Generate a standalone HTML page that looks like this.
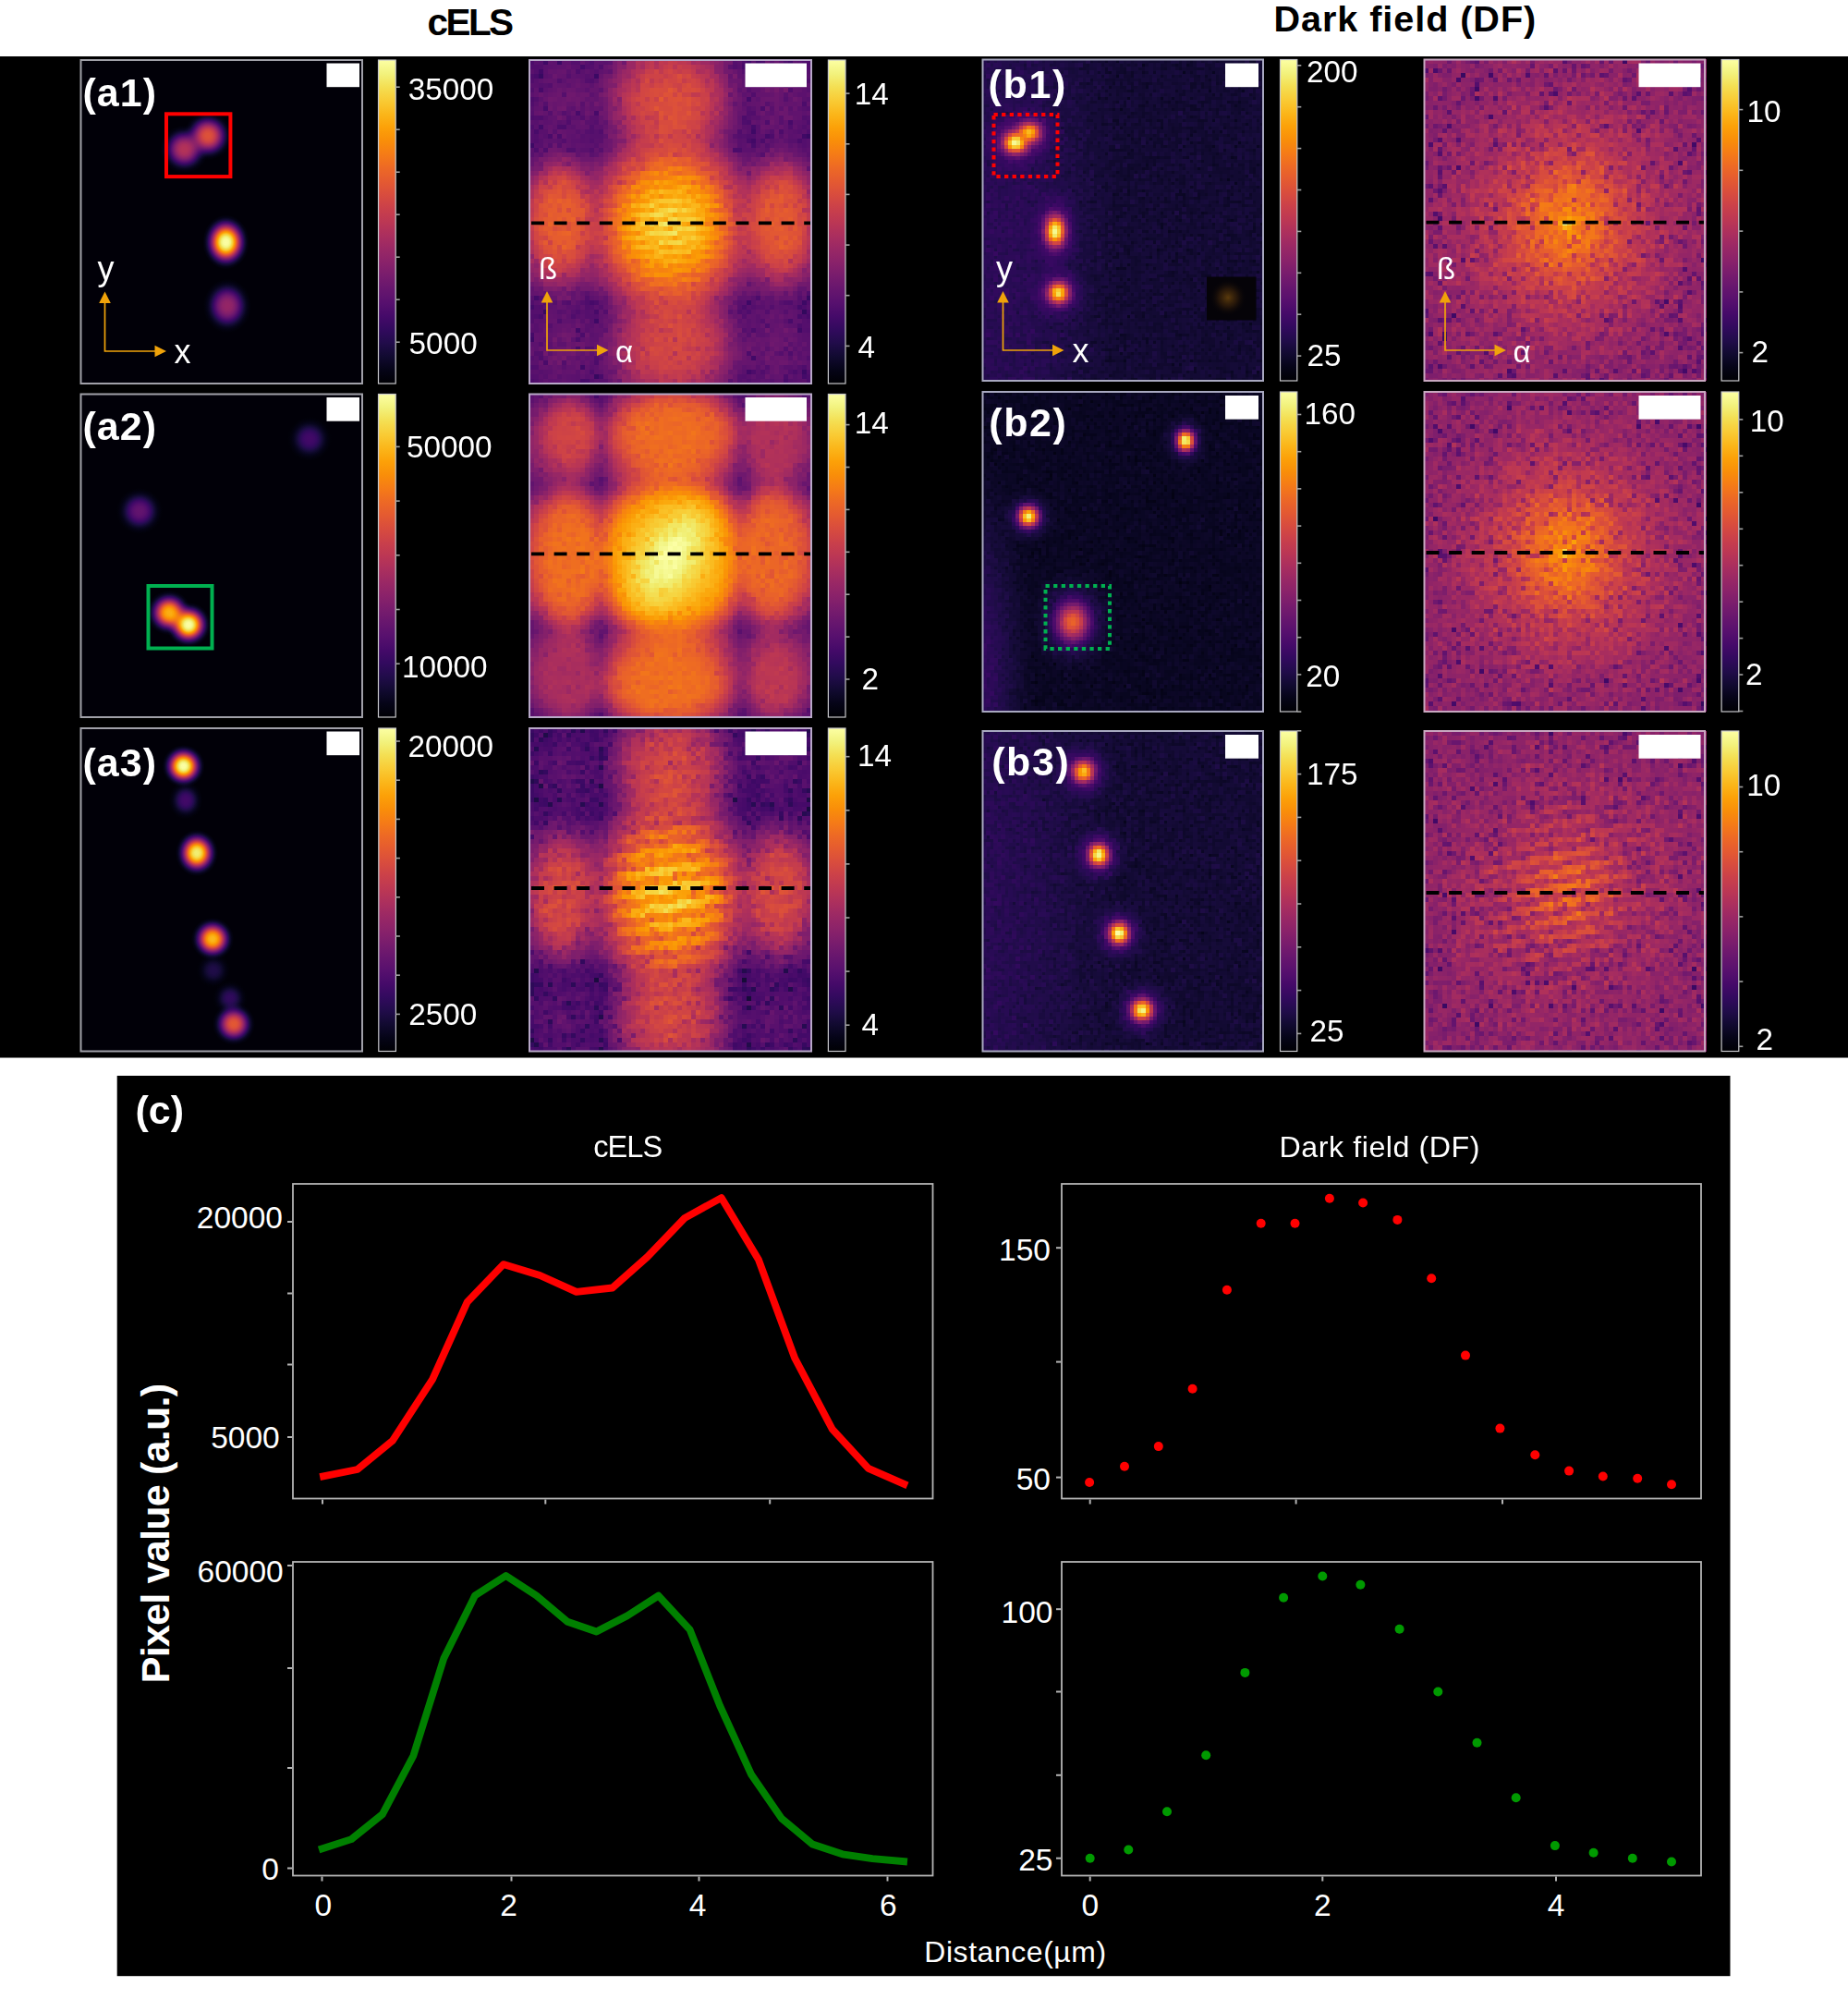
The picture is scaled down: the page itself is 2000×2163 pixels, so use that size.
<!DOCTYPE html><html><head><meta charset="utf-8"><title>figure</title><style>html,body{margin:0;padding:0;background:#fff}svg{display:block}text{font-family:"Liberation Sans",sans-serif}</style></head><body><svg width="2000" height="2163" viewBox="0 0 2000 2163"><defs><filter id="cmS" x="0" y="0" width="310" height="356" filterUnits="userSpaceOnUse" color-interpolation-filters="sRGB"><feComponentTransfer><feFuncR type="table" tableValues="0.0015 0.0060 0.0140 0.0258 0.0423 0.0613 0.0820 0.1046 0.1293 0.1558 0.1834 0.2111 0.2383 0.2648 0.2908 0.3163 0.3415 0.3665 0.3915 0.4163 0.4412 0.4661 0.4910 0.5160 0.5409 0.5659 0.5907 0.6155 0.6401 0.6645 0.6887 0.7124 0.7357 0.7584 0.7805 0.8019 0.8224 0.8420 0.8605 0.8780 0.8943 0.9094 0.9232 0.9357 0.9470 0.9569 0.9654 0.9726 0.9784 0.9829 0.9860 0.9876 0.9879 0.9867 0.9841 0.9800 0.9746 0.9680 0.9606 0.9532 0.9476 0.9469 0.9545 0.9712 0.9884"/><feFuncG type="table" tableValues="0.0005 0.0047 0.0112 0.0193 0.0281 0.0366 0.0433 0.0470 0.0473 0.0446 0.0403 0.0370 0.0366 0.0396 0.0456 0.0535 0.0623 0.0716 0.0809 0.0902 0.0993 0.1083 0.1172 0.1260 0.1347 0.1436 0.1526 0.1618 0.1714 0.1815 0.1922 0.2037 0.2159 0.2291 0.2433 0.2587 0.2752 0.2929 0.3119 0.3321 0.3534 0.3759 0.3994 0.4238 0.4492 0.4754 0.5022 0.5298 0.5579 0.5866 0.6158 0.6453 0.6753 0.7055 0.7361 0.7668 0.7977 0.8285 0.8591 0.8889 0.9174 0.9433 0.9659 0.9853 0.9984"/><feFuncB type="table" tableValues="0.0139 0.0386 0.0719 0.1059 0.1411 0.1776 0.2153 0.2534 0.2908 0.3253 0.3550 0.3786 0.3964 0.4093 0.4186 0.4251 0.4294 0.4320 0.4331 0.4329 0.4316 0.4291 0.4256 0.4209 0.4151 0.4083 0.4003 0.3912 0.3811 0.3698 0.3576 0.3444 0.3302 0.3153 0.2995 0.2831 0.2661 0.2486 0.2306 0.2123 0.1936 0.1746 0.1552 0.1354 0.1153 0.0947 0.0739 0.0533 0.0349 0.0247 0.0256 0.0399 0.0653 0.0957 0.1295 0.1664 0.2063 0.2500 0.2980 0.3514 0.4107 0.4750 0.5404 0.6022 0.6449"/></feComponentTransfer></filter><linearGradient id="cbar" x1="0" y1="0" x2="0" y2="1"><stop offset="0.000" stop-color="#fcffa4"/><stop offset="0.042" stop-color="#f2f27d"/><stop offset="0.083" stop-color="#f4df53"/><stop offset="0.125" stop-color="#f9cb35"/><stop offset="0.167" stop-color="#fbb61a"/><stop offset="0.208" stop-color="#fca108"/><stop offset="0.250" stop-color="#f98e09"/><stop offset="0.292" stop-color="#f57b17"/><stop offset="0.333" stop-color="#ed6925"/><stop offset="0.375" stop-color="#e45a31"/><stop offset="0.417" stop-color="#d84c3e"/><stop offset="0.458" stop-color="#ca404a"/><stop offset="0.500" stop-color="#bc3754"/><stop offset="0.542" stop-color="#ab2f5e"/><stop offset="0.583" stop-color="#9a2865"/><stop offset="0.625" stop-color="#8a226a"/><stop offset="0.667" stop-color="#781c6d"/><stop offset="0.708" stop-color="#67166e"/><stop offset="0.750" stop-color="#57106e"/><stop offset="0.792" stop-color="#450a69"/><stop offset="0.833" stop-color="#320a5e"/><stop offset="0.875" stop-color="#210c4a"/><stop offset="0.917" stop-color="#110a30"/><stop offset="0.958" stop-color="#050417"/><stop offset="1.000" stop-color="#000004"/></linearGradient><filter id="nF1" x="0" y="0" width="310" height="356" filterUnits="userSpaceOnUse" color-interpolation-filters="sRGB"><feTurbulence type="fractalNoise" baseFrequency="0.75" numOctaves="2" seed="3"/><feComponentTransfer><feFuncR type="table" tableValues="0 0 0.04 0.24 0.42 0.5 0.57 0.63 0.69 0.74 0.8"/></feComponentTransfer><feColorMatrix type="matrix" values="1 0 0 0 0 1 0 0 0 0 1 0 0 0 0 0 0 0 0 1" result="n"/><feComposite in="SourceGraphic" in2="n" operator="arithmetic" k1="0" k2="1" k3="0.160" k4="-0.080" result="s"/><feFlood x="2" y="2" width="1" height="1"/><feComposite width="5" height="5"/><feTile result="t"/><feComposite in="s" in2="t" operator="in"/><feMorphology operator="dilate" radius="2"/><feComponentTransfer><feFuncR type="table" tableValues="0.0015 0.0060 0.0140 0.0258 0.0423 0.0613 0.0820 0.1046 0.1293 0.1558 0.1834 0.2111 0.2383 0.2648 0.2908 0.3163 0.3415 0.3665 0.3915 0.4163 0.4412 0.4661 0.4910 0.5160 0.5409 0.5659 0.5907 0.6155 0.6401 0.6645 0.6887 0.7124 0.7357 0.7584 0.7805 0.8019 0.8224 0.8420 0.8605 0.8780 0.8943 0.9094 0.9232 0.9357 0.9470 0.9569 0.9654 0.9726 0.9784 0.9829 0.9860 0.9876 0.9879 0.9867 0.9841 0.9800 0.9746 0.9680 0.9606 0.9532 0.9476 0.9469 0.9545 0.9712 0.9884"/><feFuncG type="table" tableValues="0.0005 0.0047 0.0112 0.0193 0.0281 0.0366 0.0433 0.0470 0.0473 0.0446 0.0403 0.0370 0.0366 0.0396 0.0456 0.0535 0.0623 0.0716 0.0809 0.0902 0.0993 0.1083 0.1172 0.1260 0.1347 0.1436 0.1526 0.1618 0.1714 0.1815 0.1922 0.2037 0.2159 0.2291 0.2433 0.2587 0.2752 0.2929 0.3119 0.3321 0.3534 0.3759 0.3994 0.4238 0.4492 0.4754 0.5022 0.5298 0.5579 0.5866 0.6158 0.6453 0.6753 0.7055 0.7361 0.7668 0.7977 0.8285 0.8591 0.8889 0.9174 0.9433 0.9659 0.9853 0.9984"/><feFuncB type="table" tableValues="0.0139 0.0386 0.0719 0.1059 0.1411 0.1776 0.2153 0.2534 0.2908 0.3253 0.3550 0.3786 0.3964 0.4093 0.4186 0.4251 0.4294 0.4320 0.4331 0.4329 0.4316 0.4291 0.4256 0.4209 0.4151 0.4083 0.4003 0.3912 0.3811 0.3698 0.3576 0.3444 0.3302 0.3153 0.2995 0.2831 0.2661 0.2486 0.2306 0.2123 0.1936 0.1746 0.1552 0.1354 0.1153 0.0947 0.0739 0.0533 0.0349 0.0247 0.0256 0.0399 0.0653 0.0957 0.1295 0.1664 0.2063 0.2500 0.2980 0.3514 0.4107 0.4750 0.5404 0.6022 0.6449"/></feComponentTransfer></filter><filter id="nF2" x="0" y="0" width="310" height="356" filterUnits="userSpaceOnUse" color-interpolation-filters="sRGB"><feTurbulence type="fractalNoise" baseFrequency="0.75" numOctaves="2" seed="5"/><feComponentTransfer><feFuncR type="table" tableValues="0 0 0.04 0.24 0.42 0.5 0.57 0.63 0.69 0.74 0.8"/></feComponentTransfer><feColorMatrix type="matrix" values="1 0 0 0 0 1 0 0 0 0 1 0 0 0 0 0 0 0 0 1" result="n"/><feComposite in="SourceGraphic" in2="n" operator="arithmetic" k1="0" k2="1" k3="0.120" k4="-0.060" result="s"/><feFlood x="2" y="2" width="1" height="1"/><feComposite width="5" height="5"/><feTile result="t"/><feComposite in="s" in2="t" operator="in"/><feMorphology operator="dilate" radius="2"/><feComponentTransfer><feFuncR type="table" tableValues="0.0015 0.0060 0.0140 0.0258 0.0423 0.0613 0.0820 0.1046 0.1293 0.1558 0.1834 0.2111 0.2383 0.2648 0.2908 0.3163 0.3415 0.3665 0.3915 0.4163 0.4412 0.4661 0.4910 0.5160 0.5409 0.5659 0.5907 0.6155 0.6401 0.6645 0.6887 0.7124 0.7357 0.7584 0.7805 0.8019 0.8224 0.8420 0.8605 0.8780 0.8943 0.9094 0.9232 0.9357 0.9470 0.9569 0.9654 0.9726 0.9784 0.9829 0.9860 0.9876 0.9879 0.9867 0.9841 0.9800 0.9746 0.9680 0.9606 0.9532 0.9476 0.9469 0.9545 0.9712 0.9884"/><feFuncG type="table" tableValues="0.0005 0.0047 0.0112 0.0193 0.0281 0.0366 0.0433 0.0470 0.0473 0.0446 0.0403 0.0370 0.0366 0.0396 0.0456 0.0535 0.0623 0.0716 0.0809 0.0902 0.0993 0.1083 0.1172 0.1260 0.1347 0.1436 0.1526 0.1618 0.1714 0.1815 0.1922 0.2037 0.2159 0.2291 0.2433 0.2587 0.2752 0.2929 0.3119 0.3321 0.3534 0.3759 0.3994 0.4238 0.4492 0.4754 0.5022 0.5298 0.5579 0.5866 0.6158 0.6453 0.6753 0.7055 0.7361 0.7668 0.7977 0.8285 0.8591 0.8889 0.9174 0.9433 0.9659 0.9853 0.9984"/><feFuncB type="table" tableValues="0.0139 0.0386 0.0719 0.1059 0.1411 0.1776 0.2153 0.2534 0.2908 0.3253 0.3550 0.3786 0.3964 0.4093 0.4186 0.4251 0.4294 0.4320 0.4331 0.4329 0.4316 0.4291 0.4256 0.4209 0.4151 0.4083 0.4003 0.3912 0.3811 0.3698 0.3576 0.3444 0.3302 0.3153 0.2995 0.2831 0.2661 0.2486 0.2306 0.2123 0.1936 0.1746 0.1552 0.1354 0.1153 0.0947 0.0739 0.0533 0.0349 0.0247 0.0256 0.0399 0.0653 0.0957 0.1295 0.1664 0.2063 0.2500 0.2980 0.3514 0.4107 0.4750 0.5404 0.6022 0.6449"/></feComponentTransfer></filter><filter id="nF3" x="0" y="0" width="310" height="356" filterUnits="userSpaceOnUse" color-interpolation-filters="sRGB"><feTurbulence type="fractalNoise" baseFrequency="0.75" numOctaves="2" seed="8"/><feComponentTransfer><feFuncR type="table" tableValues="0 0 0.04 0.24 0.42 0.5 0.57 0.63 0.69 0.74 0.8"/></feComponentTransfer><feColorMatrix type="matrix" values="1 0 0 0 0 1 0 0 0 0 1 0 0 0 0 0 0 0 0 1" result="n"/><feComposite in="SourceGraphic" in2="n" operator="arithmetic" k1="0" k2="1" k3="0.260" k4="-0.130" result="s"/><feFlood x="2" y="2" width="1" height="1"/><feComposite width="5" height="5"/><feTile result="t"/><feComposite in="s" in2="t" operator="in"/><feMorphology operator="dilate" radius="2"/><feComponentTransfer><feFuncR type="table" tableValues="0.0015 0.0060 0.0140 0.0258 0.0423 0.0613 0.0820 0.1046 0.1293 0.1558 0.1834 0.2111 0.2383 0.2648 0.2908 0.3163 0.3415 0.3665 0.3915 0.4163 0.4412 0.4661 0.4910 0.5160 0.5409 0.5659 0.5907 0.6155 0.6401 0.6645 0.6887 0.7124 0.7357 0.7584 0.7805 0.8019 0.8224 0.8420 0.8605 0.8780 0.8943 0.9094 0.9232 0.9357 0.9470 0.9569 0.9654 0.9726 0.9784 0.9829 0.9860 0.9876 0.9879 0.9867 0.9841 0.9800 0.9746 0.9680 0.9606 0.9532 0.9476 0.9469 0.9545 0.9712 0.9884"/><feFuncG type="table" tableValues="0.0005 0.0047 0.0112 0.0193 0.0281 0.0366 0.0433 0.0470 0.0473 0.0446 0.0403 0.0370 0.0366 0.0396 0.0456 0.0535 0.0623 0.0716 0.0809 0.0902 0.0993 0.1083 0.1172 0.1260 0.1347 0.1436 0.1526 0.1618 0.1714 0.1815 0.1922 0.2037 0.2159 0.2291 0.2433 0.2587 0.2752 0.2929 0.3119 0.3321 0.3534 0.3759 0.3994 0.4238 0.4492 0.4754 0.5022 0.5298 0.5579 0.5866 0.6158 0.6453 0.6753 0.7055 0.7361 0.7668 0.7977 0.8285 0.8591 0.8889 0.9174 0.9433 0.9659 0.9853 0.9984"/><feFuncB type="table" tableValues="0.0139 0.0386 0.0719 0.1059 0.1411 0.1776 0.2153 0.2534 0.2908 0.3253 0.3550 0.3786 0.3964 0.4093 0.4186 0.4251 0.4294 0.4320 0.4331 0.4329 0.4316 0.4291 0.4256 0.4209 0.4151 0.4083 0.4003 0.3912 0.3811 0.3698 0.3576 0.3444 0.3302 0.3153 0.2995 0.2831 0.2661 0.2486 0.2306 0.2123 0.1936 0.1746 0.1552 0.1354 0.1153 0.0947 0.0739 0.0533 0.0349 0.0247 0.0256 0.0399 0.0653 0.0957 0.1295 0.1664 0.2063 0.2500 0.2980 0.3514 0.4107 0.4750 0.5404 0.6022 0.6449"/></feComponentTransfer></filter><filter id="nG1" x="0" y="0" width="310" height="356" filterUnits="userSpaceOnUse" color-interpolation-filters="sRGB"><feTurbulence type="fractalNoise" baseFrequency="0.75" numOctaves="2" seed="11"/><feComponentTransfer><feFuncR type="table" tableValues="0 0 0.04 0.24 0.42 0.5 0.57 0.63 0.69 0.74 0.8"/></feComponentTransfer><feColorMatrix type="matrix" values="1 0 0 0 0 1 0 0 0 0 1 0 0 0 0 0 0 0 0 1" result="n"/><feComposite in="SourceGraphic" in2="n" operator="arithmetic" k1="0" k2="1" k3="0.420" k4="-0.210" result="s"/><feFlood x="2" y="2" width="1" height="1"/><feComposite width="5" height="5"/><feTile result="t"/><feComposite in="s" in2="t" operator="in"/><feMorphology operator="dilate" radius="2"/><feComponentTransfer><feFuncR type="table" tableValues="0.0015 0.0060 0.0140 0.0258 0.0423 0.0613 0.0820 0.1046 0.1293 0.1558 0.1834 0.2111 0.2383 0.2648 0.2908 0.3163 0.3415 0.3665 0.3915 0.4163 0.4412 0.4661 0.4910 0.5160 0.5409 0.5659 0.5907 0.6155 0.6401 0.6645 0.6887 0.7124 0.7357 0.7584 0.7805 0.8019 0.8224 0.8420 0.8605 0.8780 0.8943 0.9094 0.9232 0.9357 0.9470 0.9569 0.9654 0.9726 0.9784 0.9829 0.9860 0.9876 0.9879 0.9867 0.9841 0.9800 0.9746 0.9680 0.9606 0.9532 0.9476 0.9469 0.9545 0.9712 0.9884"/><feFuncG type="table" tableValues="0.0005 0.0047 0.0112 0.0193 0.0281 0.0366 0.0433 0.0470 0.0473 0.0446 0.0403 0.0370 0.0366 0.0396 0.0456 0.0535 0.0623 0.0716 0.0809 0.0902 0.0993 0.1083 0.1172 0.1260 0.1347 0.1436 0.1526 0.1618 0.1714 0.1815 0.1922 0.2037 0.2159 0.2291 0.2433 0.2587 0.2752 0.2929 0.3119 0.3321 0.3534 0.3759 0.3994 0.4238 0.4492 0.4754 0.5022 0.5298 0.5579 0.5866 0.6158 0.6453 0.6753 0.7055 0.7361 0.7668 0.7977 0.8285 0.8591 0.8889 0.9174 0.9433 0.9659 0.9853 0.9984"/><feFuncB type="table" tableValues="0.0139 0.0386 0.0719 0.1059 0.1411 0.1776 0.2153 0.2534 0.2908 0.3253 0.3550 0.3786 0.3964 0.4093 0.4186 0.4251 0.4294 0.4320 0.4331 0.4329 0.4316 0.4291 0.4256 0.4209 0.4151 0.4083 0.4003 0.3912 0.3811 0.3698 0.3576 0.3444 0.3302 0.3153 0.2995 0.2831 0.2661 0.2486 0.2306 0.2123 0.1936 0.1746 0.1552 0.1354 0.1153 0.0947 0.0739 0.0533 0.0349 0.0247 0.0256 0.0399 0.0653 0.0957 0.1295 0.1664 0.2063 0.2500 0.2980 0.3514 0.4107 0.4750 0.5404 0.6022 0.6449"/></feComponentTransfer></filter><filter id="nG2" x="0" y="0" width="310" height="356" filterUnits="userSpaceOnUse" color-interpolation-filters="sRGB"><feTurbulence type="fractalNoise" baseFrequency="0.75" numOctaves="2" seed="12"/><feComponentTransfer><feFuncR type="table" tableValues="0 0 0.04 0.24 0.42 0.5 0.57 0.63 0.69 0.74 0.8"/></feComponentTransfer><feColorMatrix type="matrix" values="1 0 0 0 0 1 0 0 0 0 1 0 0 0 0 0 0 0 0 1" result="n"/><feComposite in="SourceGraphic" in2="n" operator="arithmetic" k1="0" k2="1" k3="0.420" k4="-0.210" result="s"/><feFlood x="2" y="2" width="1" height="1"/><feComposite width="5" height="5"/><feTile result="t"/><feComposite in="s" in2="t" operator="in"/><feMorphology operator="dilate" radius="2"/><feComponentTransfer><feFuncR type="table" tableValues="0.0015 0.0060 0.0140 0.0258 0.0423 0.0613 0.0820 0.1046 0.1293 0.1558 0.1834 0.2111 0.2383 0.2648 0.2908 0.3163 0.3415 0.3665 0.3915 0.4163 0.4412 0.4661 0.4910 0.5160 0.5409 0.5659 0.5907 0.6155 0.6401 0.6645 0.6887 0.7124 0.7357 0.7584 0.7805 0.8019 0.8224 0.8420 0.8605 0.8780 0.8943 0.9094 0.9232 0.9357 0.9470 0.9569 0.9654 0.9726 0.9784 0.9829 0.9860 0.9876 0.9879 0.9867 0.9841 0.9800 0.9746 0.9680 0.9606 0.9532 0.9476 0.9469 0.9545 0.9712 0.9884"/><feFuncG type="table" tableValues="0.0005 0.0047 0.0112 0.0193 0.0281 0.0366 0.0433 0.0470 0.0473 0.0446 0.0403 0.0370 0.0366 0.0396 0.0456 0.0535 0.0623 0.0716 0.0809 0.0902 0.0993 0.1083 0.1172 0.1260 0.1347 0.1436 0.1526 0.1618 0.1714 0.1815 0.1922 0.2037 0.2159 0.2291 0.2433 0.2587 0.2752 0.2929 0.3119 0.3321 0.3534 0.3759 0.3994 0.4238 0.4492 0.4754 0.5022 0.5298 0.5579 0.5866 0.6158 0.6453 0.6753 0.7055 0.7361 0.7668 0.7977 0.8285 0.8591 0.8889 0.9174 0.9433 0.9659 0.9853 0.9984"/><feFuncB type="table" tableValues="0.0139 0.0386 0.0719 0.1059 0.1411 0.1776 0.2153 0.2534 0.2908 0.3253 0.3550 0.3786 0.3964 0.4093 0.4186 0.4251 0.4294 0.4320 0.4331 0.4329 0.4316 0.4291 0.4256 0.4209 0.4151 0.4083 0.4003 0.3912 0.3811 0.3698 0.3576 0.3444 0.3302 0.3153 0.2995 0.2831 0.2661 0.2486 0.2306 0.2123 0.1936 0.1746 0.1552 0.1354 0.1153 0.0947 0.0739 0.0533 0.0349 0.0247 0.0256 0.0399 0.0653 0.0957 0.1295 0.1664 0.2063 0.2500 0.2980 0.3514 0.4107 0.4750 0.5404 0.6022 0.6449"/></feComponentTransfer></filter><filter id="nG3" x="0" y="0" width="310" height="356" filterUnits="userSpaceOnUse" color-interpolation-filters="sRGB"><feTurbulence type="fractalNoise" baseFrequency="0.75" numOctaves="2" seed="13"/><feComponentTransfer><feFuncR type="table" tableValues="0 0 0.04 0.24 0.42 0.5 0.57 0.63 0.69 0.74 0.8"/></feComponentTransfer><feColorMatrix type="matrix" values="1 0 0 0 0 1 0 0 0 0 1 0 0 0 0 0 0 0 0 1" result="n"/><feComposite in="SourceGraphic" in2="n" operator="arithmetic" k1="0" k2="1" k3="0.420" k4="-0.210" result="s"/><feFlood x="2" y="2" width="1" height="1"/><feComposite width="5" height="5"/><feTile result="t"/><feComposite in="s" in2="t" operator="in"/><feMorphology operator="dilate" radius="2"/><feComponentTransfer><feFuncR type="table" tableValues="0.0015 0.0060 0.0140 0.0258 0.0423 0.0613 0.0820 0.1046 0.1293 0.1558 0.1834 0.2111 0.2383 0.2648 0.2908 0.3163 0.3415 0.3665 0.3915 0.4163 0.4412 0.4661 0.4910 0.5160 0.5409 0.5659 0.5907 0.6155 0.6401 0.6645 0.6887 0.7124 0.7357 0.7584 0.7805 0.8019 0.8224 0.8420 0.8605 0.8780 0.8943 0.9094 0.9232 0.9357 0.9470 0.9569 0.9654 0.9726 0.9784 0.9829 0.9860 0.9876 0.9879 0.9867 0.9841 0.9800 0.9746 0.9680 0.9606 0.9532 0.9476 0.9469 0.9545 0.9712 0.9884"/><feFuncG type="table" tableValues="0.0005 0.0047 0.0112 0.0193 0.0281 0.0366 0.0433 0.0470 0.0473 0.0446 0.0403 0.0370 0.0366 0.0396 0.0456 0.0535 0.0623 0.0716 0.0809 0.0902 0.0993 0.1083 0.1172 0.1260 0.1347 0.1436 0.1526 0.1618 0.1714 0.1815 0.1922 0.2037 0.2159 0.2291 0.2433 0.2587 0.2752 0.2929 0.3119 0.3321 0.3534 0.3759 0.3994 0.4238 0.4492 0.4754 0.5022 0.5298 0.5579 0.5866 0.6158 0.6453 0.6753 0.7055 0.7361 0.7668 0.7977 0.8285 0.8591 0.8889 0.9174 0.9433 0.9659 0.9853 0.9984"/><feFuncB type="table" tableValues="0.0139 0.0386 0.0719 0.1059 0.1411 0.1776 0.2153 0.2534 0.2908 0.3253 0.3550 0.3786 0.3964 0.4093 0.4186 0.4251 0.4294 0.4320 0.4331 0.4329 0.4316 0.4291 0.4256 0.4209 0.4151 0.4083 0.4003 0.3912 0.3811 0.3698 0.3576 0.3444 0.3302 0.3153 0.2995 0.2831 0.2661 0.2486 0.2306 0.2123 0.1936 0.1746 0.1552 0.1354 0.1153 0.0947 0.0739 0.0533 0.0349 0.0247 0.0256 0.0399 0.0653 0.0957 0.1295 0.1664 0.2063 0.2500 0.2980 0.3514 0.4107 0.4750 0.5404 0.6022 0.6449"/></feComponentTransfer></filter><filter id="nB1" x="0" y="0" width="310" height="356" filterUnits="userSpaceOnUse" color-interpolation-filters="sRGB"><feTurbulence type="fractalNoise" baseFrequency="0.35" numOctaves="2" seed="21"/><feColorMatrix type="matrix" values="1 0 0 0 0 1 0 0 0 0 1 0 0 0 0 0 0 0 0 1" result="n"/><feComposite in="SourceGraphic" in2="n" operator="arithmetic" k1="0" k2="1" k3="0.100" k4="-0.050" result="s"/><feFlood x="2" y="2" width="1" height="1"/><feComposite width="4" height="4"/><feTile result="t"/><feComposite in="s" in2="t" operator="in"/><feMorphology operator="dilate" radius="2"/><feComponentTransfer><feFuncR type="table" tableValues="0.0015 0.0060 0.0140 0.0258 0.0423 0.0613 0.0820 0.1046 0.1293 0.1558 0.1834 0.2111 0.2383 0.2648 0.2908 0.3163 0.3415 0.3665 0.3915 0.4163 0.4412 0.4661 0.4910 0.5160 0.5409 0.5659 0.5907 0.6155 0.6401 0.6645 0.6887 0.7124 0.7357 0.7584 0.7805 0.8019 0.8224 0.8420 0.8605 0.8780 0.8943 0.9094 0.9232 0.9357 0.9470 0.9569 0.9654 0.9726 0.9784 0.9829 0.9860 0.9876 0.9879 0.9867 0.9841 0.9800 0.9746 0.9680 0.9606 0.9532 0.9476 0.9469 0.9545 0.9712 0.9884"/><feFuncG type="table" tableValues="0.0005 0.0047 0.0112 0.0193 0.0281 0.0366 0.0433 0.0470 0.0473 0.0446 0.0403 0.0370 0.0366 0.0396 0.0456 0.0535 0.0623 0.0716 0.0809 0.0902 0.0993 0.1083 0.1172 0.1260 0.1347 0.1436 0.1526 0.1618 0.1714 0.1815 0.1922 0.2037 0.2159 0.2291 0.2433 0.2587 0.2752 0.2929 0.3119 0.3321 0.3534 0.3759 0.3994 0.4238 0.4492 0.4754 0.5022 0.5298 0.5579 0.5866 0.6158 0.6453 0.6753 0.7055 0.7361 0.7668 0.7977 0.8285 0.8591 0.8889 0.9174 0.9433 0.9659 0.9853 0.9984"/><feFuncB type="table" tableValues="0.0139 0.0386 0.0719 0.1059 0.1411 0.1776 0.2153 0.2534 0.2908 0.3253 0.3550 0.3786 0.3964 0.4093 0.4186 0.4251 0.4294 0.4320 0.4331 0.4329 0.4316 0.4291 0.4256 0.4209 0.4151 0.4083 0.4003 0.3912 0.3811 0.3698 0.3576 0.3444 0.3302 0.3153 0.2995 0.2831 0.2661 0.2486 0.2306 0.2123 0.1936 0.1746 0.1552 0.1354 0.1153 0.0947 0.0739 0.0533 0.0349 0.0247 0.0256 0.0399 0.0653 0.0957 0.1295 0.1664 0.2063 0.2500 0.2980 0.3514 0.4107 0.4750 0.5404 0.6022 0.6449"/></feComponentTransfer></filter><filter id="nB2" x="0" y="0" width="310" height="356" filterUnits="userSpaceOnUse" color-interpolation-filters="sRGB"><feTurbulence type="fractalNoise" baseFrequency="0.35" numOctaves="2" seed="22"/><feColorMatrix type="matrix" values="1 0 0 0 0 1 0 0 0 0 1 0 0 0 0 0 0 0 0 1" result="n"/><feComposite in="SourceGraphic" in2="n" operator="arithmetic" k1="0" k2="1" k3="0.080" k4="-0.040" result="s"/><feFlood x="2" y="2" width="1" height="1"/><feComposite width="4" height="4"/><feTile result="t"/><feComposite in="s" in2="t" operator="in"/><feMorphology operator="dilate" radius="2"/><feComponentTransfer><feFuncR type="table" tableValues="0.0015 0.0060 0.0140 0.0258 0.0423 0.0613 0.0820 0.1046 0.1293 0.1558 0.1834 0.2111 0.2383 0.2648 0.2908 0.3163 0.3415 0.3665 0.3915 0.4163 0.4412 0.4661 0.4910 0.5160 0.5409 0.5659 0.5907 0.6155 0.6401 0.6645 0.6887 0.7124 0.7357 0.7584 0.7805 0.8019 0.8224 0.8420 0.8605 0.8780 0.8943 0.9094 0.9232 0.9357 0.9470 0.9569 0.9654 0.9726 0.9784 0.9829 0.9860 0.9876 0.9879 0.9867 0.9841 0.9800 0.9746 0.9680 0.9606 0.9532 0.9476 0.9469 0.9545 0.9712 0.9884"/><feFuncG type="table" tableValues="0.0005 0.0047 0.0112 0.0193 0.0281 0.0366 0.0433 0.0470 0.0473 0.0446 0.0403 0.0370 0.0366 0.0396 0.0456 0.0535 0.0623 0.0716 0.0809 0.0902 0.0993 0.1083 0.1172 0.1260 0.1347 0.1436 0.1526 0.1618 0.1714 0.1815 0.1922 0.2037 0.2159 0.2291 0.2433 0.2587 0.2752 0.2929 0.3119 0.3321 0.3534 0.3759 0.3994 0.4238 0.4492 0.4754 0.5022 0.5298 0.5579 0.5866 0.6158 0.6453 0.6753 0.7055 0.7361 0.7668 0.7977 0.8285 0.8591 0.8889 0.9174 0.9433 0.9659 0.9853 0.9984"/><feFuncB type="table" tableValues="0.0139 0.0386 0.0719 0.1059 0.1411 0.1776 0.2153 0.2534 0.2908 0.3253 0.3550 0.3786 0.3964 0.4093 0.4186 0.4251 0.4294 0.4320 0.4331 0.4329 0.4316 0.4291 0.4256 0.4209 0.4151 0.4083 0.4003 0.3912 0.3811 0.3698 0.3576 0.3444 0.3302 0.3153 0.2995 0.2831 0.2661 0.2486 0.2306 0.2123 0.1936 0.1746 0.1552 0.1354 0.1153 0.0947 0.0739 0.0533 0.0349 0.0247 0.0256 0.0399 0.0653 0.0957 0.1295 0.1664 0.2063 0.2500 0.2980 0.3514 0.4107 0.4750 0.5404 0.6022 0.6449"/></feComponentTransfer></filter><filter id="nB3" x="0" y="0" width="310" height="356" filterUnits="userSpaceOnUse" color-interpolation-filters="sRGB"><feTurbulence type="fractalNoise" baseFrequency="0.35" numOctaves="2" seed="23"/><feColorMatrix type="matrix" values="1 0 0 0 0 1 0 0 0 0 1 0 0 0 0 0 0 0 0 1" result="n"/><feComposite in="SourceGraphic" in2="n" operator="arithmetic" k1="0" k2="1" k3="0.100" k4="-0.050" result="s"/><feFlood x="2" y="2" width="1" height="1"/><feComposite width="4" height="4"/><feTile result="t"/><feComposite in="s" in2="t" operator="in"/><feMorphology operator="dilate" radius="2"/><feComponentTransfer><feFuncR type="table" tableValues="0.0015 0.0060 0.0140 0.0258 0.0423 0.0613 0.0820 0.1046 0.1293 0.1558 0.1834 0.2111 0.2383 0.2648 0.2908 0.3163 0.3415 0.3665 0.3915 0.4163 0.4412 0.4661 0.4910 0.5160 0.5409 0.5659 0.5907 0.6155 0.6401 0.6645 0.6887 0.7124 0.7357 0.7584 0.7805 0.8019 0.8224 0.8420 0.8605 0.8780 0.8943 0.9094 0.9232 0.9357 0.9470 0.9569 0.9654 0.9726 0.9784 0.9829 0.9860 0.9876 0.9879 0.9867 0.9841 0.9800 0.9746 0.9680 0.9606 0.9532 0.9476 0.9469 0.9545 0.9712 0.9884"/><feFuncG type="table" tableValues="0.0005 0.0047 0.0112 0.0193 0.0281 0.0366 0.0433 0.0470 0.0473 0.0446 0.0403 0.0370 0.0366 0.0396 0.0456 0.0535 0.0623 0.0716 0.0809 0.0902 0.0993 0.1083 0.1172 0.1260 0.1347 0.1436 0.1526 0.1618 0.1714 0.1815 0.1922 0.2037 0.2159 0.2291 0.2433 0.2587 0.2752 0.2929 0.3119 0.3321 0.3534 0.3759 0.3994 0.4238 0.4492 0.4754 0.5022 0.5298 0.5579 0.5866 0.6158 0.6453 0.6753 0.7055 0.7361 0.7668 0.7977 0.8285 0.8591 0.8889 0.9174 0.9433 0.9659 0.9853 0.9984"/><feFuncB type="table" tableValues="0.0139 0.0386 0.0719 0.1059 0.1411 0.1776 0.2153 0.2534 0.2908 0.3253 0.3550 0.3786 0.3964 0.4093 0.4186 0.4251 0.4294 0.4320 0.4331 0.4329 0.4316 0.4291 0.4256 0.4209 0.4151 0.4083 0.4003 0.3912 0.3811 0.3698 0.3576 0.3444 0.3302 0.3153 0.2995 0.2831 0.2661 0.2486 0.2306 0.2123 0.1936 0.1746 0.1552 0.1354 0.1153 0.0947 0.0739 0.0533 0.0349 0.0247 0.0256 0.0399 0.0653 0.0957 0.1295 0.1664 0.2063 0.2500 0.2980 0.3514 0.4107 0.4750 0.5404 0.6022 0.6449"/></feComponentTransfer></filter><radialGradient id="g1"><stop offset="0.000" stop-color="#7a7a7a" stop-opacity="1.000"/><stop offset="0.100" stop-color="#7a7a7a" stop-opacity="0.994"/><stop offset="0.200" stop-color="#7a7a7a" stop-opacity="0.956"/><stop offset="0.300" stop-color="#7a7a7a" stop-opacity="0.869"/><stop offset="0.400" stop-color="#7a7a7a" stop-opacity="0.731"/><stop offset="0.500" stop-color="#7a7a7a" stop-opacity="0.556"/><stop offset="0.600" stop-color="#7a7a7a" stop-opacity="0.373"/><stop offset="0.700" stop-color="#7a7a7a" stop-opacity="0.215"/><stop offset="0.800" stop-color="#7a7a7a" stop-opacity="0.101"/><stop offset="0.900" stop-color="#7a7a7a" stop-opacity="0.033"/><stop offset="1.000" stop-color="#7a7a7a" stop-opacity="0.000"/></radialGradient><radialGradient id="g2"><stop offset="0.000" stop-color="#999999" stop-opacity="1.000"/><stop offset="0.100" stop-color="#999999" stop-opacity="0.994"/><stop offset="0.200" stop-color="#999999" stop-opacity="0.956"/><stop offset="0.300" stop-color="#999999" stop-opacity="0.869"/><stop offset="0.400" stop-color="#999999" stop-opacity="0.731"/><stop offset="0.500" stop-color="#999999" stop-opacity="0.556"/><stop offset="0.600" stop-color="#999999" stop-opacity="0.373"/><stop offset="0.700" stop-color="#999999" stop-opacity="0.215"/><stop offset="0.800" stop-color="#999999" stop-opacity="0.101"/><stop offset="0.900" stop-color="#999999" stop-opacity="0.033"/><stop offset="1.000" stop-color="#999999" stop-opacity="0.000"/></radialGradient><radialGradient id="g3"><stop offset="0.000" stop-color="#ffffff" stop-opacity="1.000"/><stop offset="0.100" stop-color="#ffffff" stop-opacity="0.994"/><stop offset="0.200" stop-color="#ffffff" stop-opacity="0.956"/><stop offset="0.300" stop-color="#ffffff" stop-opacity="0.869"/><stop offset="0.400" stop-color="#ffffff" stop-opacity="0.731"/><stop offset="0.500" stop-color="#ffffff" stop-opacity="0.556"/><stop offset="0.600" stop-color="#ffffff" stop-opacity="0.373"/><stop offset="0.700" stop-color="#ffffff" stop-opacity="0.215"/><stop offset="0.800" stop-color="#ffffff" stop-opacity="0.101"/><stop offset="0.900" stop-color="#ffffff" stop-opacity="0.033"/><stop offset="1.000" stop-color="#ffffff" stop-opacity="0.000"/></radialGradient><radialGradient id="g4"><stop offset="0.000" stop-color="#666666" stop-opacity="1.000"/><stop offset="0.100" stop-color="#666666" stop-opacity="0.994"/><stop offset="0.200" stop-color="#666666" stop-opacity="0.956"/><stop offset="0.300" stop-color="#666666" stop-opacity="0.869"/><stop offset="0.400" stop-color="#666666" stop-opacity="0.731"/><stop offset="0.500" stop-color="#666666" stop-opacity="0.556"/><stop offset="0.600" stop-color="#666666" stop-opacity="0.373"/><stop offset="0.700" stop-color="#666666" stop-opacity="0.215"/><stop offset="0.800" stop-color="#666666" stop-opacity="0.101"/><stop offset="0.900" stop-color="#666666" stop-opacity="0.033"/><stop offset="1.000" stop-color="#666666" stop-opacity="0.000"/></radialGradient><radialGradient id="g5"><stop offset="0.000" stop-color="#333333" stop-opacity="1.000"/><stop offset="0.100" stop-color="#333333" stop-opacity="0.994"/><stop offset="0.200" stop-color="#333333" stop-opacity="0.956"/><stop offset="0.300" stop-color="#333333" stop-opacity="0.869"/><stop offset="0.400" stop-color="#333333" stop-opacity="0.731"/><stop offset="0.500" stop-color="#333333" stop-opacity="0.556"/><stop offset="0.600" stop-color="#333333" stop-opacity="0.373"/><stop offset="0.700" stop-color="#333333" stop-opacity="0.215"/><stop offset="0.800" stop-color="#333333" stop-opacity="0.101"/><stop offset="0.900" stop-color="#333333" stop-opacity="0.033"/><stop offset="1.000" stop-color="#333333" stop-opacity="0.000"/></radialGradient><radialGradient id="g6"><stop offset="0.000" stop-color="#474747" stop-opacity="1.000"/><stop offset="0.100" stop-color="#474747" stop-opacity="0.994"/><stop offset="0.200" stop-color="#474747" stop-opacity="0.956"/><stop offset="0.300" stop-color="#474747" stop-opacity="0.869"/><stop offset="0.400" stop-color="#474747" stop-opacity="0.731"/><stop offset="0.500" stop-color="#474747" stop-opacity="0.556"/><stop offset="0.600" stop-color="#474747" stop-opacity="0.373"/><stop offset="0.700" stop-color="#474747" stop-opacity="0.215"/><stop offset="0.800" stop-color="#474747" stop-opacity="0.101"/><stop offset="0.900" stop-color="#474747" stop-opacity="0.033"/><stop offset="1.000" stop-color="#474747" stop-opacity="0.000"/></radialGradient><radialGradient id="g7"><stop offset="0.000" stop-color="#d1d1d1" stop-opacity="1.000"/><stop offset="0.100" stop-color="#d1d1d1" stop-opacity="0.994"/><stop offset="0.200" stop-color="#d1d1d1" stop-opacity="0.956"/><stop offset="0.300" stop-color="#d1d1d1" stop-opacity="0.869"/><stop offset="0.400" stop-color="#d1d1d1" stop-opacity="0.731"/><stop offset="0.500" stop-color="#d1d1d1" stop-opacity="0.556"/><stop offset="0.600" stop-color="#d1d1d1" stop-opacity="0.373"/><stop offset="0.700" stop-color="#d1d1d1" stop-opacity="0.215"/><stop offset="0.800" stop-color="#d1d1d1" stop-opacity="0.101"/><stop offset="0.900" stop-color="#d1d1d1" stop-opacity="0.033"/><stop offset="1.000" stop-color="#d1d1d1" stop-opacity="0.000"/></radialGradient><radialGradient id="g8"><stop offset="0.000" stop-color="#ffffff" stop-opacity="1.000"/><stop offset="0.100" stop-color="#ffffff" stop-opacity="0.994"/><stop offset="0.200" stop-color="#ffffff" stop-opacity="0.956"/><stop offset="0.300" stop-color="#ffffff" stop-opacity="0.869"/><stop offset="0.400" stop-color="#ffffff" stop-opacity="0.731"/><stop offset="0.500" stop-color="#ffffff" stop-opacity="0.556"/><stop offset="0.600" stop-color="#ffffff" stop-opacity="0.373"/><stop offset="0.700" stop-color="#ffffff" stop-opacity="0.215"/><stop offset="0.800" stop-color="#ffffff" stop-opacity="0.101"/><stop offset="0.900" stop-color="#ffffff" stop-opacity="0.033"/><stop offset="1.000" stop-color="#ffffff" stop-opacity="0.000"/></radialGradient><radialGradient id="g9"><stop offset="0.000" stop-color="#ffffff" stop-opacity="1.000"/><stop offset="0.100" stop-color="#ffffff" stop-opacity="0.994"/><stop offset="0.200" stop-color="#ffffff" stop-opacity="0.956"/><stop offset="0.300" stop-color="#ffffff" stop-opacity="0.869"/><stop offset="0.400" stop-color="#ffffff" stop-opacity="0.731"/><stop offset="0.500" stop-color="#ffffff" stop-opacity="0.556"/><stop offset="0.600" stop-color="#ffffff" stop-opacity="0.373"/><stop offset="0.700" stop-color="#ffffff" stop-opacity="0.215"/><stop offset="0.800" stop-color="#ffffff" stop-opacity="0.101"/><stop offset="0.900" stop-color="#ffffff" stop-opacity="0.033"/><stop offset="1.000" stop-color="#ffffff" stop-opacity="0.000"/></radialGradient><radialGradient id="g10"><stop offset="0.000" stop-color="#333333" stop-opacity="1.000"/><stop offset="0.100" stop-color="#333333" stop-opacity="0.994"/><stop offset="0.200" stop-color="#333333" stop-opacity="0.956"/><stop offset="0.300" stop-color="#333333" stop-opacity="0.869"/><stop offset="0.400" stop-color="#333333" stop-opacity="0.731"/><stop offset="0.500" stop-color="#333333" stop-opacity="0.556"/><stop offset="0.600" stop-color="#333333" stop-opacity="0.373"/><stop offset="0.700" stop-color="#333333" stop-opacity="0.215"/><stop offset="0.800" stop-color="#333333" stop-opacity="0.101"/><stop offset="0.900" stop-color="#333333" stop-opacity="0.033"/><stop offset="1.000" stop-color="#333333" stop-opacity="0.000"/></radialGradient><radialGradient id="g11"><stop offset="0.000" stop-color="#f2f2f2" stop-opacity="1.000"/><stop offset="0.100" stop-color="#f2f2f2" stop-opacity="0.994"/><stop offset="0.200" stop-color="#f2f2f2" stop-opacity="0.956"/><stop offset="0.300" stop-color="#f2f2f2" stop-opacity="0.869"/><stop offset="0.400" stop-color="#f2f2f2" stop-opacity="0.731"/><stop offset="0.500" stop-color="#f2f2f2" stop-opacity="0.556"/><stop offset="0.600" stop-color="#f2f2f2" stop-opacity="0.373"/><stop offset="0.700" stop-color="#f2f2f2" stop-opacity="0.215"/><stop offset="0.800" stop-color="#f2f2f2" stop-opacity="0.101"/><stop offset="0.900" stop-color="#f2f2f2" stop-opacity="0.033"/><stop offset="1.000" stop-color="#f2f2f2" stop-opacity="0.000"/></radialGradient><radialGradient id="g12"><stop offset="0.000" stop-color="#d6d6d6" stop-opacity="1.000"/><stop offset="0.100" stop-color="#d6d6d6" stop-opacity="0.994"/><stop offset="0.200" stop-color="#d6d6d6" stop-opacity="0.956"/><stop offset="0.300" stop-color="#d6d6d6" stop-opacity="0.869"/><stop offset="0.400" stop-color="#d6d6d6" stop-opacity="0.731"/><stop offset="0.500" stop-color="#d6d6d6" stop-opacity="0.556"/><stop offset="0.600" stop-color="#d6d6d6" stop-opacity="0.373"/><stop offset="0.700" stop-color="#d6d6d6" stop-opacity="0.215"/><stop offset="0.800" stop-color="#d6d6d6" stop-opacity="0.101"/><stop offset="0.900" stop-color="#d6d6d6" stop-opacity="0.033"/><stop offset="1.000" stop-color="#d6d6d6" stop-opacity="0.000"/></radialGradient><radialGradient id="g13"><stop offset="0.000" stop-color="#1f1f1f" stop-opacity="1.000"/><stop offset="0.100" stop-color="#1f1f1f" stop-opacity="0.994"/><stop offset="0.200" stop-color="#1f1f1f" stop-opacity="0.956"/><stop offset="0.300" stop-color="#1f1f1f" stop-opacity="0.869"/><stop offset="0.400" stop-color="#1f1f1f" stop-opacity="0.731"/><stop offset="0.500" stop-color="#1f1f1f" stop-opacity="0.556"/><stop offset="0.600" stop-color="#1f1f1f" stop-opacity="0.373"/><stop offset="0.700" stop-color="#1f1f1f" stop-opacity="0.215"/><stop offset="0.800" stop-color="#1f1f1f" stop-opacity="0.101"/><stop offset="0.900" stop-color="#1f1f1f" stop-opacity="0.033"/><stop offset="1.000" stop-color="#1f1f1f" stop-opacity="0.000"/></radialGradient><radialGradient id="g14"><stop offset="0.000" stop-color="#292929" stop-opacity="1.000"/><stop offset="0.100" stop-color="#292929" stop-opacity="0.994"/><stop offset="0.200" stop-color="#292929" stop-opacity="0.956"/><stop offset="0.300" stop-color="#292929" stop-opacity="0.869"/><stop offset="0.400" stop-color="#292929" stop-opacity="0.731"/><stop offset="0.500" stop-color="#292929" stop-opacity="0.556"/><stop offset="0.600" stop-color="#292929" stop-opacity="0.373"/><stop offset="0.700" stop-color="#292929" stop-opacity="0.215"/><stop offset="0.800" stop-color="#292929" stop-opacity="0.101"/><stop offset="0.900" stop-color="#292929" stop-opacity="0.033"/><stop offset="1.000" stop-color="#292929" stop-opacity="0.000"/></radialGradient><radialGradient id="g15"><stop offset="0.000" stop-color="#9e9e9e" stop-opacity="1.000"/><stop offset="0.100" stop-color="#9e9e9e" stop-opacity="0.994"/><stop offset="0.200" stop-color="#9e9e9e" stop-opacity="0.956"/><stop offset="0.300" stop-color="#9e9e9e" stop-opacity="0.869"/><stop offset="0.400" stop-color="#9e9e9e" stop-opacity="0.731"/><stop offset="0.500" stop-color="#9e9e9e" stop-opacity="0.556"/><stop offset="0.600" stop-color="#9e9e9e" stop-opacity="0.373"/><stop offset="0.700" stop-color="#9e9e9e" stop-opacity="0.215"/><stop offset="0.800" stop-color="#9e9e9e" stop-opacity="0.101"/><stop offset="0.900" stop-color="#9e9e9e" stop-opacity="0.033"/><stop offset="1.000" stop-color="#9e9e9e" stop-opacity="0.000"/></radialGradient><linearGradient id="p16" x1="0" y1="0" x2="1" y2="0"><stop offset="0.000" stop-color="#1b1b1b"/><stop offset="0.025" stop-color="#1e1e1e"/><stop offset="0.050" stop-color="#212121"/><stop offset="0.075" stop-color="#242424"/><stop offset="0.100" stop-color="#262626"/><stop offset="0.125" stop-color="#262626"/><stop offset="0.150" stop-color="#252525"/><stop offset="0.175" stop-color="#232323"/><stop offset="0.200" stop-color="#212121"/><stop offset="0.225" stop-color="#1f1f1f"/><stop offset="0.250" stop-color="#202020"/><stop offset="0.275" stop-color="#252525"/><stop offset="0.300" stop-color="#2e2e2e"/><stop offset="0.325" stop-color="#363636"/><stop offset="0.350" stop-color="#3c3c3c"/><stop offset="0.375" stop-color="#424242"/><stop offset="0.400" stop-color="#474747"/><stop offset="0.425" stop-color="#494949"/><stop offset="0.450" stop-color="#4b4b4b"/><stop offset="0.475" stop-color="#4c4c4c"/><stop offset="0.500" stop-color="#4c4c4c"/><stop offset="0.525" stop-color="#4c4c4c"/><stop offset="0.550" stop-color="#4b4b4b"/><stop offset="0.575" stop-color="#494949"/><stop offset="0.600" stop-color="#464646"/><stop offset="0.625" stop-color="#414141"/><stop offset="0.650" stop-color="#3b3b3b"/><stop offset="0.675" stop-color="#353535"/><stop offset="0.700" stop-color="#2c2c2c"/><stop offset="0.725" stop-color="#242424"/><stop offset="0.750" stop-color="#1f1f1f"/><stop offset="0.775" stop-color="#1f1f1f"/><stop offset="0.800" stop-color="#212121"/><stop offset="0.825" stop-color="#232323"/><stop offset="0.850" stop-color="#252525"/><stop offset="0.875" stop-color="#262626"/><stop offset="0.900" stop-color="#262626"/><stop offset="0.925" stop-color="#232323"/><stop offset="0.950" stop-color="#212121"/><stop offset="0.975" stop-color="#1e1e1e"/><stop offset="1.000" stop-color="#1b1b1b"/></linearGradient><linearGradient id="p17" x1="0" y1="0" x2="0" y2="1"><stop offset="0.000" stop-color="#1d1d1d"/><stop offset="0.025" stop-color="#1f1f1f"/><stop offset="0.050" stop-color="#212121"/><stop offset="0.075" stop-color="#242424"/><stop offset="0.100" stop-color="#262626"/><stop offset="0.125" stop-color="#262626"/><stop offset="0.150" stop-color="#252525"/><stop offset="0.175" stop-color="#242424"/><stop offset="0.200" stop-color="#222222"/><stop offset="0.225" stop-color="#202020"/><stop offset="0.250" stop-color="#1f1f1f"/><stop offset="0.275" stop-color="#222222"/><stop offset="0.300" stop-color="#2a2a2a"/><stop offset="0.325" stop-color="#333333"/><stop offset="0.350" stop-color="#3a3a3a"/><stop offset="0.375" stop-color="#414141"/><stop offset="0.400" stop-color="#464646"/><stop offset="0.425" stop-color="#494949"/><stop offset="0.450" stop-color="#4b4b4b"/><stop offset="0.475" stop-color="#4c4c4c"/><stop offset="0.500" stop-color="#4c4c4c"/><stop offset="0.525" stop-color="#4c4c4c"/><stop offset="0.550" stop-color="#4b4b4b"/><stop offset="0.575" stop-color="#4a4a4a"/><stop offset="0.600" stop-color="#484848"/><stop offset="0.625" stop-color="#434343"/><stop offset="0.650" stop-color="#3d3d3d"/><stop offset="0.675" stop-color="#373737"/><stop offset="0.700" stop-color="#2f2f2f"/><stop offset="0.725" stop-color="#252525"/><stop offset="0.750" stop-color="#1f1f1f"/><stop offset="0.775" stop-color="#1f1f1f"/><stop offset="0.800" stop-color="#212121"/><stop offset="0.825" stop-color="#232323"/><stop offset="0.850" stop-color="#252525"/><stop offset="0.875" stop-color="#262626"/><stop offset="0.900" stop-color="#262626"/><stop offset="0.925" stop-color="#252525"/><stop offset="0.950" stop-color="#222222"/><stop offset="0.975" stop-color="#202020"/><stop offset="1.000" stop-color="#1e1e1e"/></linearGradient><radialGradient id="g18"><stop offset="0.000" stop-color="#a1a1a1" stop-opacity="1.000"/><stop offset="0.100" stop-color="#a1a1a1" stop-opacity="1.000"/><stop offset="0.200" stop-color="#a1a1a1" stop-opacity="0.993"/><stop offset="0.300" stop-color="#a1a1a1" stop-opacity="0.963"/><stop offset="0.400" stop-color="#a1a1a1" stop-opacity="0.888"/><stop offset="0.500" stop-color="#a1a1a1" stop-opacity="0.748"/><stop offset="0.600" stop-color="#a1a1a1" stop-opacity="0.546"/><stop offset="0.700" stop-color="#a1a1a1" stop-opacity="0.325"/><stop offset="0.800" stop-color="#a1a1a1" stop-opacity="0.143"/><stop offset="0.900" stop-color="#a1a1a1" stop-opacity="0.039"/><stop offset="1.000" stop-color="#a1a1a1" stop-opacity="0.000"/></radialGradient><radialGradient id="g19"><stop offset="0.000" stop-color="#9e9e9e" stop-opacity="1.000"/><stop offset="0.100" stop-color="#9e9e9e" stop-opacity="1.000"/><stop offset="0.200" stop-color="#9e9e9e" stop-opacity="0.993"/><stop offset="0.300" stop-color="#9e9e9e" stop-opacity="0.963"/><stop offset="0.400" stop-color="#9e9e9e" stop-opacity="0.888"/><stop offset="0.500" stop-color="#9e9e9e" stop-opacity="0.748"/><stop offset="0.600" stop-color="#9e9e9e" stop-opacity="0.546"/><stop offset="0.700" stop-color="#9e9e9e" stop-opacity="0.325"/><stop offset="0.800" stop-color="#9e9e9e" stop-opacity="0.143"/><stop offset="0.900" stop-color="#9e9e9e" stop-opacity="0.039"/><stop offset="1.000" stop-color="#9e9e9e" stop-opacity="0.000"/></radialGradient><radialGradient id="g20"><stop offset="0.000" stop-color="#969696" stop-opacity="1.000"/><stop offset="0.100" stop-color="#969696" stop-opacity="0.995"/><stop offset="0.200" stop-color="#969696" stop-opacity="0.964"/><stop offset="0.300" stop-color="#969696" stop-opacity="0.882"/><stop offset="0.400" stop-color="#969696" stop-opacity="0.742"/><stop offset="0.500" stop-color="#969696" stop-opacity="0.558"/><stop offset="0.600" stop-color="#969696" stop-opacity="0.364"/><stop offset="0.700" stop-color="#969696" stop-opacity="0.198"/><stop offset="0.800" stop-color="#969696" stop-opacity="0.086"/><stop offset="0.900" stop-color="#969696" stop-opacity="0.025"/><stop offset="1.000" stop-color="#969696" stop-opacity="0.000"/></radialGradient><radialGradient id="g21"><stop offset="0.000" stop-color="#8f8f8f" stop-opacity="1.000"/><stop offset="0.100" stop-color="#8f8f8f" stop-opacity="0.995"/><stop offset="0.200" stop-color="#8f8f8f" stop-opacity="0.964"/><stop offset="0.300" stop-color="#8f8f8f" stop-opacity="0.882"/><stop offset="0.400" stop-color="#8f8f8f" stop-opacity="0.742"/><stop offset="0.500" stop-color="#8f8f8f" stop-opacity="0.558"/><stop offset="0.600" stop-color="#8f8f8f" stop-opacity="0.364"/><stop offset="0.700" stop-color="#8f8f8f" stop-opacity="0.198"/><stop offset="0.800" stop-color="#8f8f8f" stop-opacity="0.086"/><stop offset="0.900" stop-color="#8f8f8f" stop-opacity="0.025"/><stop offset="1.000" stop-color="#8f8f8f" stop-opacity="0.000"/></radialGradient><radialGradient id="g22"><stop offset="0.000" stop-color="#c7c7c7" stop-opacity="1.000"/><stop offset="0.100" stop-color="#c7c7c7" stop-opacity="0.999"/><stop offset="0.200" stop-color="#c7c7c7" stop-opacity="0.984"/><stop offset="0.300" stop-color="#c7c7c7" stop-opacity="0.934"/><stop offset="0.400" stop-color="#c7c7c7" stop-opacity="0.828"/><stop offset="0.500" stop-color="#c7c7c7" stop-opacity="0.663"/><stop offset="0.600" stop-color="#c7c7c7" stop-opacity="0.458"/><stop offset="0.700" stop-color="#c7c7c7" stop-opacity="0.260"/><stop offset="0.800" stop-color="#c7c7c7" stop-opacity="0.113"/><stop offset="0.900" stop-color="#c7c7c7" stop-opacity="0.032"/><stop offset="1.000" stop-color="#c7c7c7" stop-opacity="0.000"/></radialGradient><radialGradient id="g23"><stop offset="0.000" stop-color="#ebebeb" stop-opacity="1.000"/><stop offset="0.100" stop-color="#ebebeb" stop-opacity="0.972"/><stop offset="0.200" stop-color="#ebebeb" stop-opacity="0.892"/><stop offset="0.300" stop-color="#ebebeb" stop-opacity="0.772"/><stop offset="0.400" stop-color="#ebebeb" stop-opacity="0.629"/><stop offset="0.500" stop-color="#ebebeb" stop-opacity="0.479"/><stop offset="0.600" stop-color="#ebebeb" stop-opacity="0.339"/><stop offset="0.700" stop-color="#ebebeb" stop-opacity="0.218"/><stop offset="0.800" stop-color="#ebebeb" stop-opacity="0.122"/><stop offset="0.900" stop-color="#ebebeb" stop-opacity="0.050"/><stop offset="1.000" stop-color="#ebebeb" stop-opacity="0.000"/></radialGradient><clipPath id="c24"><ellipse cx="151" cy="178" rx="80" ry="80"/></clipPath><linearGradient id="p25" x1="0" y1="0" x2="1" y2="0"><stop offset="0.000" stop-color="#212121"/><stop offset="0.025" stop-color="#292929"/><stop offset="0.050" stop-color="#323232"/><stop offset="0.075" stop-color="#383838"/><stop offset="0.100" stop-color="#3d3d3d"/><stop offset="0.125" stop-color="#414141"/><stop offset="0.150" stop-color="#424242"/><stop offset="0.175" stop-color="#3d3d3d"/><stop offset="0.200" stop-color="#363636"/><stop offset="0.225" stop-color="#2a2a2a"/><stop offset="0.250" stop-color="#212121"/><stop offset="0.275" stop-color="#2b2b2b"/><stop offset="0.300" stop-color="#3d3d3d"/><stop offset="0.325" stop-color="#494949"/><stop offset="0.350" stop-color="#535353"/><stop offset="0.375" stop-color="#5a5a5a"/><stop offset="0.400" stop-color="#616161"/><stop offset="0.425" stop-color="#666666"/><stop offset="0.450" stop-color="#696969"/><stop offset="0.475" stop-color="#6a6a6a"/><stop offset="0.500" stop-color="#6b6b6b"/><stop offset="0.525" stop-color="#6a6a6a"/><stop offset="0.550" stop-color="#696969"/><stop offset="0.575" stop-color="#666666"/><stop offset="0.600" stop-color="#626262"/><stop offset="0.625" stop-color="#5b5b5b"/><stop offset="0.650" stop-color="#545454"/><stop offset="0.675" stop-color="#4a4a4a"/><stop offset="0.700" stop-color="#3f3f3f"/><stop offset="0.725" stop-color="#2d2d2d"/><stop offset="0.750" stop-color="#212121"/><stop offset="0.775" stop-color="#282828"/><stop offset="0.800" stop-color="#353535"/><stop offset="0.825" stop-color="#3c3c3c"/><stop offset="0.850" stop-color="#414141"/><stop offset="0.875" stop-color="#424242"/><stop offset="0.900" stop-color="#3e3e3e"/><stop offset="0.925" stop-color="#393939"/><stop offset="0.950" stop-color="#333333"/><stop offset="0.975" stop-color="#2b2b2b"/><stop offset="1.000" stop-color="#212121"/></linearGradient><linearGradient id="p26" x1="0" y1="0" x2="0" y2="1"><stop offset="0.000" stop-color="#171717"/><stop offset="0.025" stop-color="#232323"/><stop offset="0.050" stop-color="#2d2d2d"/><stop offset="0.075" stop-color="#363636"/><stop offset="0.100" stop-color="#3d3d3d"/><stop offset="0.125" stop-color="#404040"/><stop offset="0.150" stop-color="#3f3f3f"/><stop offset="0.175" stop-color="#3c3c3c"/><stop offset="0.200" stop-color="#393939"/><stop offset="0.225" stop-color="#353535"/><stop offset="0.250" stop-color="#2b2b2b"/><stop offset="0.275" stop-color="#222222"/><stop offset="0.300" stop-color="#282828"/><stop offset="0.325" stop-color="#3d3d3d"/><stop offset="0.350" stop-color="#4a4a4a"/><stop offset="0.375" stop-color="#555555"/><stop offset="0.400" stop-color="#5e5e5e"/><stop offset="0.425" stop-color="#646464"/><stop offset="0.450" stop-color="#686868"/><stop offset="0.475" stop-color="#6a6a6a"/><stop offset="0.500" stop-color="#6b6b6b"/><stop offset="0.525" stop-color="#6a6a6a"/><stop offset="0.550" stop-color="#686868"/><stop offset="0.575" stop-color="#646464"/><stop offset="0.600" stop-color="#5e5e5e"/><stop offset="0.625" stop-color="#555555"/><stop offset="0.650" stop-color="#4a4a4a"/><stop offset="0.675" stop-color="#3d3d3d"/><stop offset="0.700" stop-color="#282828"/><stop offset="0.725" stop-color="#222222"/><stop offset="0.750" stop-color="#2b2b2b"/><stop offset="0.775" stop-color="#353535"/><stop offset="0.800" stop-color="#393939"/><stop offset="0.825" stop-color="#3c3c3c"/><stop offset="0.850" stop-color="#3f3f3f"/><stop offset="0.875" stop-color="#404040"/><stop offset="0.900" stop-color="#3d3d3d"/><stop offset="0.925" stop-color="#363636"/><stop offset="0.950" stop-color="#2d2d2d"/><stop offset="0.975" stop-color="#232323"/><stop offset="1.000" stop-color="#171717"/></linearGradient><radialGradient id="g27"><stop offset="0.000" stop-color="#8f8f8f" stop-opacity="1.000"/><stop offset="0.100" stop-color="#8f8f8f" stop-opacity="1.000"/><stop offset="0.200" stop-color="#8f8f8f" stop-opacity="0.993"/><stop offset="0.300" stop-color="#8f8f8f" stop-opacity="0.963"/><stop offset="0.400" stop-color="#8f8f8f" stop-opacity="0.888"/><stop offset="0.500" stop-color="#8f8f8f" stop-opacity="0.748"/><stop offset="0.600" stop-color="#8f8f8f" stop-opacity="0.546"/><stop offset="0.700" stop-color="#8f8f8f" stop-opacity="0.325"/><stop offset="0.800" stop-color="#8f8f8f" stop-opacity="0.143"/><stop offset="0.900" stop-color="#8f8f8f" stop-opacity="0.039"/><stop offset="1.000" stop-color="#8f8f8f" stop-opacity="0.000"/></radialGradient><radialGradient id="g28"><stop offset="0.000" stop-color="#787878" stop-opacity="1.000"/><stop offset="0.100" stop-color="#787878" stop-opacity="1.000"/><stop offset="0.200" stop-color="#787878" stop-opacity="0.993"/><stop offset="0.300" stop-color="#787878" stop-opacity="0.963"/><stop offset="0.400" stop-color="#787878" stop-opacity="0.888"/><stop offset="0.500" stop-color="#787878" stop-opacity="0.748"/><stop offset="0.600" stop-color="#787878" stop-opacity="0.546"/><stop offset="0.700" stop-color="#787878" stop-opacity="0.325"/><stop offset="0.800" stop-color="#787878" stop-opacity="0.143"/><stop offset="0.900" stop-color="#787878" stop-opacity="0.039"/><stop offset="1.000" stop-color="#787878" stop-opacity="0.000"/></radialGradient><radialGradient id="g29"><stop offset="0.000" stop-color="#808080" stop-opacity="1.000"/><stop offset="0.100" stop-color="#808080" stop-opacity="1.000"/><stop offset="0.200" stop-color="#808080" stop-opacity="0.993"/><stop offset="0.300" stop-color="#808080" stop-opacity="0.963"/><stop offset="0.400" stop-color="#808080" stop-opacity="0.888"/><stop offset="0.500" stop-color="#808080" stop-opacity="0.748"/><stop offset="0.600" stop-color="#808080" stop-opacity="0.546"/><stop offset="0.700" stop-color="#808080" stop-opacity="0.325"/><stop offset="0.800" stop-color="#808080" stop-opacity="0.143"/><stop offset="0.900" stop-color="#808080" stop-opacity="0.039"/><stop offset="1.000" stop-color="#808080" stop-opacity="0.000"/></radialGradient><radialGradient id="g30"><stop offset="0.000" stop-color="#737373" stop-opacity="1.000"/><stop offset="0.100" stop-color="#737373" stop-opacity="1.000"/><stop offset="0.200" stop-color="#737373" stop-opacity="0.993"/><stop offset="0.300" stop-color="#737373" stop-opacity="0.963"/><stop offset="0.400" stop-color="#737373" stop-opacity="0.888"/><stop offset="0.500" stop-color="#737373" stop-opacity="0.748"/><stop offset="0.600" stop-color="#737373" stop-opacity="0.546"/><stop offset="0.700" stop-color="#737373" stop-opacity="0.325"/><stop offset="0.800" stop-color="#737373" stop-opacity="0.143"/><stop offset="0.900" stop-color="#737373" stop-opacity="0.039"/><stop offset="1.000" stop-color="#737373" stop-opacity="0.000"/></radialGradient><radialGradient id="g31"><stop offset="0.000" stop-color="#adadad" stop-opacity="1.000"/><stop offset="0.100" stop-color="#adadad" stop-opacity="1.000"/><stop offset="0.200" stop-color="#adadad" stop-opacity="0.993"/><stop offset="0.300" stop-color="#adadad" stop-opacity="0.963"/><stop offset="0.400" stop-color="#adadad" stop-opacity="0.888"/><stop offset="0.500" stop-color="#adadad" stop-opacity="0.748"/><stop offset="0.600" stop-color="#adadad" stop-opacity="0.546"/><stop offset="0.700" stop-color="#adadad" stop-opacity="0.325"/><stop offset="0.800" stop-color="#adadad" stop-opacity="0.143"/><stop offset="0.900" stop-color="#adadad" stop-opacity="0.039"/><stop offset="1.000" stop-color="#adadad" stop-opacity="0.000"/></radialGradient><radialGradient id="g32"><stop offset="0.000" stop-color="#a8a8a8" stop-opacity="1.000"/><stop offset="0.100" stop-color="#a8a8a8" stop-opacity="1.000"/><stop offset="0.200" stop-color="#a8a8a8" stop-opacity="0.993"/><stop offset="0.300" stop-color="#a8a8a8" stop-opacity="0.963"/><stop offset="0.400" stop-color="#a8a8a8" stop-opacity="0.888"/><stop offset="0.500" stop-color="#a8a8a8" stop-opacity="0.748"/><stop offset="0.600" stop-color="#a8a8a8" stop-opacity="0.546"/><stop offset="0.700" stop-color="#a8a8a8" stop-opacity="0.325"/><stop offset="0.800" stop-color="#a8a8a8" stop-opacity="0.143"/><stop offset="0.900" stop-color="#a8a8a8" stop-opacity="0.039"/><stop offset="1.000" stop-color="#a8a8a8" stop-opacity="0.000"/></radialGradient><radialGradient id="g33"><stop offset="0.000" stop-color="#ababab" stop-opacity="1.000"/><stop offset="0.100" stop-color="#ababab" stop-opacity="1.000"/><stop offset="0.200" stop-color="#ababab" stop-opacity="0.993"/><stop offset="0.300" stop-color="#ababab" stop-opacity="0.963"/><stop offset="0.400" stop-color="#ababab" stop-opacity="0.888"/><stop offset="0.500" stop-color="#ababab" stop-opacity="0.748"/><stop offset="0.600" stop-color="#ababab" stop-opacity="0.546"/><stop offset="0.700" stop-color="#ababab" stop-opacity="0.325"/><stop offset="0.800" stop-color="#ababab" stop-opacity="0.143"/><stop offset="0.900" stop-color="#ababab" stop-opacity="0.039"/><stop offset="1.000" stop-color="#ababab" stop-opacity="0.000"/></radialGradient><radialGradient id="g34"><stop offset="0.000" stop-color="#adadad" stop-opacity="1.000"/><stop offset="0.100" stop-color="#adadad" stop-opacity="1.000"/><stop offset="0.200" stop-color="#adadad" stop-opacity="0.993"/><stop offset="0.300" stop-color="#adadad" stop-opacity="0.963"/><stop offset="0.400" stop-color="#adadad" stop-opacity="0.888"/><stop offset="0.500" stop-color="#adadad" stop-opacity="0.748"/><stop offset="0.600" stop-color="#adadad" stop-opacity="0.546"/><stop offset="0.700" stop-color="#adadad" stop-opacity="0.325"/><stop offset="0.800" stop-color="#adadad" stop-opacity="0.143"/><stop offset="0.900" stop-color="#adadad" stop-opacity="0.039"/><stop offset="1.000" stop-color="#adadad" stop-opacity="0.000"/></radialGradient><radialGradient id="g35"><stop offset="0.000" stop-color="#d6d6d6" stop-opacity="1.000"/><stop offset="0.100" stop-color="#d6d6d6" stop-opacity="1.000"/><stop offset="0.200" stop-color="#d6d6d6" stop-opacity="0.993"/><stop offset="0.300" stop-color="#d6d6d6" stop-opacity="0.963"/><stop offset="0.400" stop-color="#d6d6d6" stop-opacity="0.888"/><stop offset="0.500" stop-color="#d6d6d6" stop-opacity="0.748"/><stop offset="0.600" stop-color="#d6d6d6" stop-opacity="0.546"/><stop offset="0.700" stop-color="#d6d6d6" stop-opacity="0.325"/><stop offset="0.800" stop-color="#d6d6d6" stop-opacity="0.143"/><stop offset="0.900" stop-color="#d6d6d6" stop-opacity="0.039"/><stop offset="1.000" stop-color="#d6d6d6" stop-opacity="0.000"/></radialGradient><radialGradient id="g36"><stop offset="0.000" stop-color="#ffffff" stop-opacity="1.000"/><stop offset="0.100" stop-color="#ffffff" stop-opacity="0.972"/><stop offset="0.200" stop-color="#ffffff" stop-opacity="0.892"/><stop offset="0.300" stop-color="#ffffff" stop-opacity="0.772"/><stop offset="0.400" stop-color="#ffffff" stop-opacity="0.629"/><stop offset="0.500" stop-color="#ffffff" stop-opacity="0.479"/><stop offset="0.600" stop-color="#ffffff" stop-opacity="0.339"/><stop offset="0.700" stop-color="#ffffff" stop-opacity="0.218"/><stop offset="0.800" stop-color="#ffffff" stop-opacity="0.122"/><stop offset="0.900" stop-color="#ffffff" stop-opacity="0.050"/><stop offset="1.000" stop-color="#ffffff" stop-opacity="0.000"/></radialGradient><linearGradient id="p37" x1="0" y1="0" x2="1" y2="0"><stop offset="0.000" stop-color="#161616"/><stop offset="0.025" stop-color="#1a1a1a"/><stop offset="0.050" stop-color="#1d1d1d"/><stop offset="0.075" stop-color="#1f1f1f"/><stop offset="0.100" stop-color="#212121"/><stop offset="0.125" stop-color="#212121"/><stop offset="0.150" stop-color="#202020"/><stop offset="0.175" stop-color="#1e1e1e"/><stop offset="0.200" stop-color="#1d1d1d"/><stop offset="0.225" stop-color="#1a1a1a"/><stop offset="0.250" stop-color="#1a1a1a"/><stop offset="0.275" stop-color="#1f1f1f"/><stop offset="0.300" stop-color="#282828"/><stop offset="0.325" stop-color="#323232"/><stop offset="0.350" stop-color="#393939"/><stop offset="0.375" stop-color="#3f3f3f"/><stop offset="0.400" stop-color="#444444"/><stop offset="0.425" stop-color="#474747"/><stop offset="0.450" stop-color="#484848"/><stop offset="0.475" stop-color="#494949"/><stop offset="0.500" stop-color="#4a4a4a"/><stop offset="0.525" stop-color="#4a4a4a"/><stop offset="0.550" stop-color="#484848"/><stop offset="0.575" stop-color="#474747"/><stop offset="0.600" stop-color="#444444"/><stop offset="0.625" stop-color="#3f3f3f"/><stop offset="0.650" stop-color="#393939"/><stop offset="0.675" stop-color="#333333"/><stop offset="0.700" stop-color="#292929"/><stop offset="0.725" stop-color="#202020"/><stop offset="0.750" stop-color="#1a1a1a"/><stop offset="0.775" stop-color="#1a1a1a"/><stop offset="0.800" stop-color="#1c1c1c"/><stop offset="0.825" stop-color="#1e1e1e"/><stop offset="0.850" stop-color="#202020"/><stop offset="0.875" stop-color="#212121"/><stop offset="0.900" stop-color="#212121"/><stop offset="0.925" stop-color="#1f1f1f"/><stop offset="0.950" stop-color="#1d1d1d"/><stop offset="0.975" stop-color="#1a1a1a"/><stop offset="1.000" stop-color="#171717"/></linearGradient><linearGradient id="p38" x1="0" y1="0" x2="0" y2="1"><stop offset="0.000" stop-color="#171717"/><stop offset="0.025" stop-color="#191919"/><stop offset="0.050" stop-color="#1c1c1c"/><stop offset="0.075" stop-color="#1e1e1e"/><stop offset="0.100" stop-color="#212121"/><stop offset="0.125" stop-color="#212121"/><stop offset="0.150" stop-color="#202020"/><stop offset="0.175" stop-color="#1f1f1f"/><stop offset="0.200" stop-color="#1d1d1d"/><stop offset="0.225" stop-color="#1b1b1b"/><stop offset="0.250" stop-color="#1a1a1a"/><stop offset="0.275" stop-color="#1e1e1e"/><stop offset="0.300" stop-color="#282828"/><stop offset="0.325" stop-color="#323232"/><stop offset="0.350" stop-color="#383838"/><stop offset="0.375" stop-color="#3e3e3e"/><stop offset="0.400" stop-color="#434343"/><stop offset="0.425" stop-color="#464646"/><stop offset="0.450" stop-color="#484848"/><stop offset="0.475" stop-color="#494949"/><stop offset="0.500" stop-color="#4a4a4a"/><stop offset="0.525" stop-color="#4a4a4a"/><stop offset="0.550" stop-color="#494949"/><stop offset="0.575" stop-color="#474747"/><stop offset="0.600" stop-color="#464646"/><stop offset="0.625" stop-color="#424242"/><stop offset="0.650" stop-color="#3d3d3d"/><stop offset="0.675" stop-color="#373737"/><stop offset="0.700" stop-color="#2f2f2f"/><stop offset="0.725" stop-color="#252525"/><stop offset="0.750" stop-color="#1c1c1c"/><stop offset="0.775" stop-color="#1a1a1a"/><stop offset="0.800" stop-color="#1b1b1b"/><stop offset="0.825" stop-color="#1e1e1e"/><stop offset="0.850" stop-color="#1f1f1f"/><stop offset="0.875" stop-color="#212121"/><stop offset="0.900" stop-color="#212121"/><stop offset="0.925" stop-color="#202020"/><stop offset="0.950" stop-color="#1e1e1e"/><stop offset="0.975" stop-color="#1b1b1b"/><stop offset="1.000" stop-color="#191919"/></linearGradient><radialGradient id="g39"><stop offset="0.000" stop-color="#949494" stop-opacity="1.000"/><stop offset="0.100" stop-color="#949494" stop-opacity="1.000"/><stop offset="0.200" stop-color="#949494" stop-opacity="0.993"/><stop offset="0.300" stop-color="#949494" stop-opacity="0.963"/><stop offset="0.400" stop-color="#949494" stop-opacity="0.888"/><stop offset="0.500" stop-color="#949494" stop-opacity="0.748"/><stop offset="0.600" stop-color="#949494" stop-opacity="0.546"/><stop offset="0.700" stop-color="#949494" stop-opacity="0.325"/><stop offset="0.800" stop-color="#949494" stop-opacity="0.143"/><stop offset="0.900" stop-color="#949494" stop-opacity="0.039"/><stop offset="1.000" stop-color="#949494" stop-opacity="0.000"/></radialGradient><radialGradient id="g40"><stop offset="0.000" stop-color="#949494" stop-opacity="1.000"/><stop offset="0.100" stop-color="#949494" stop-opacity="1.000"/><stop offset="0.200" stop-color="#949494" stop-opacity="0.993"/><stop offset="0.300" stop-color="#949494" stop-opacity="0.963"/><stop offset="0.400" stop-color="#949494" stop-opacity="0.888"/><stop offset="0.500" stop-color="#949494" stop-opacity="0.748"/><stop offset="0.600" stop-color="#949494" stop-opacity="0.546"/><stop offset="0.700" stop-color="#949494" stop-opacity="0.325"/><stop offset="0.800" stop-color="#949494" stop-opacity="0.143"/><stop offset="0.900" stop-color="#949494" stop-opacity="0.039"/><stop offset="1.000" stop-color="#949494" stop-opacity="0.000"/></radialGradient><radialGradient id="g41"><stop offset="0.000" stop-color="#949494" stop-opacity="1.000"/><stop offset="0.100" stop-color="#949494" stop-opacity="0.995"/><stop offset="0.200" stop-color="#949494" stop-opacity="0.964"/><stop offset="0.300" stop-color="#949494" stop-opacity="0.882"/><stop offset="0.400" stop-color="#949494" stop-opacity="0.742"/><stop offset="0.500" stop-color="#949494" stop-opacity="0.558"/><stop offset="0.600" stop-color="#949494" stop-opacity="0.364"/><stop offset="0.700" stop-color="#949494" stop-opacity="0.198"/><stop offset="0.800" stop-color="#949494" stop-opacity="0.086"/><stop offset="0.900" stop-color="#949494" stop-opacity="0.025"/><stop offset="1.000" stop-color="#949494" stop-opacity="0.000"/></radialGradient><radialGradient id="g42"><stop offset="0.000" stop-color="#919191" stop-opacity="1.000"/><stop offset="0.100" stop-color="#919191" stop-opacity="0.995"/><stop offset="0.200" stop-color="#919191" stop-opacity="0.964"/><stop offset="0.300" stop-color="#919191" stop-opacity="0.882"/><stop offset="0.400" stop-color="#919191" stop-opacity="0.742"/><stop offset="0.500" stop-color="#919191" stop-opacity="0.558"/><stop offset="0.600" stop-color="#919191" stop-opacity="0.364"/><stop offset="0.700" stop-color="#919191" stop-opacity="0.198"/><stop offset="0.800" stop-color="#919191" stop-opacity="0.086"/><stop offset="0.900" stop-color="#919191" stop-opacity="0.025"/><stop offset="1.000" stop-color="#919191" stop-opacity="0.000"/></radialGradient><radialGradient id="g43"><stop offset="0.000" stop-color="#c4c4c4" stop-opacity="1.000"/><stop offset="0.100" stop-color="#c4c4c4" stop-opacity="0.999"/><stop offset="0.200" stop-color="#c4c4c4" stop-opacity="0.984"/><stop offset="0.300" stop-color="#c4c4c4" stop-opacity="0.934"/><stop offset="0.400" stop-color="#c4c4c4" stop-opacity="0.828"/><stop offset="0.500" stop-color="#c4c4c4" stop-opacity="0.663"/><stop offset="0.600" stop-color="#c4c4c4" stop-opacity="0.458"/><stop offset="0.700" stop-color="#c4c4c4" stop-opacity="0.260"/><stop offset="0.800" stop-color="#c4c4c4" stop-opacity="0.113"/><stop offset="0.900" stop-color="#c4c4c4" stop-opacity="0.032"/><stop offset="1.000" stop-color="#c4c4c4" stop-opacity="0.000"/></radialGradient><radialGradient id="g44"><stop offset="0.000" stop-color="#e6e6e6" stop-opacity="1.000"/><stop offset="0.100" stop-color="#e6e6e6" stop-opacity="0.972"/><stop offset="0.200" stop-color="#e6e6e6" stop-opacity="0.892"/><stop offset="0.300" stop-color="#e6e6e6" stop-opacity="0.772"/><stop offset="0.400" stop-color="#e6e6e6" stop-opacity="0.629"/><stop offset="0.500" stop-color="#e6e6e6" stop-opacity="0.479"/><stop offset="0.600" stop-color="#e6e6e6" stop-opacity="0.339"/><stop offset="0.700" stop-color="#e6e6e6" stop-opacity="0.218"/><stop offset="0.800" stop-color="#e6e6e6" stop-opacity="0.122"/><stop offset="0.900" stop-color="#e6e6e6" stop-opacity="0.050"/><stop offset="1.000" stop-color="#e6e6e6" stop-opacity="0.000"/></radialGradient><clipPath id="c45"><ellipse cx="153" cy="178" rx="170" ry="190"/></clipPath><clipPath id="c46"><ellipse cx="153" cy="178" rx="80" ry="90"/></clipPath><radialGradient id="g47"><stop offset="0.000" stop-color="#262626" stop-opacity="1.000"/><stop offset="0.100" stop-color="#262626" stop-opacity="0.977"/><stop offset="0.200" stop-color="#262626" stop-opacity="0.911"/><stop offset="0.300" stop-color="#262626" stop-opacity="0.809"/><stop offset="0.400" stop-color="#262626" stop-opacity="0.683"/><stop offset="0.500" stop-color="#262626" stop-opacity="0.545"/><stop offset="0.600" stop-color="#262626" stop-opacity="0.406"/><stop offset="0.700" stop-color="#262626" stop-opacity="0.278"/><stop offset="0.800" stop-color="#262626" stop-opacity="0.165"/><stop offset="0.900" stop-color="#262626" stop-opacity="0.072"/><stop offset="1.000" stop-color="#262626" stop-opacity="0.000"/></radialGradient><radialGradient id="g48"><stop offset="0.000" stop-color="#4c4c4c" stop-opacity="1.000"/><stop offset="0.100" stop-color="#4c4c4c" stop-opacity="0.966"/><stop offset="0.200" stop-color="#4c4c4c" stop-opacity="0.869"/><stop offset="0.300" stop-color="#4c4c4c" stop-opacity="0.728"/><stop offset="0.400" stop-color="#4c4c4c" stop-opacity="0.568"/><stop offset="0.500" stop-color="#4c4c4c" stop-opacity="0.409"/><stop offset="0.600" stop-color="#4c4c4c" stop-opacity="0.271"/><stop offset="0.700" stop-color="#4c4c4c" stop-opacity="0.162"/><stop offset="0.800" stop-color="#4c4c4c" stop-opacity="0.084"/><stop offset="0.900" stop-color="#4c4c4c" stop-opacity="0.032"/><stop offset="1.000" stop-color="#4c4c4c" stop-opacity="0.000"/></radialGradient><radialGradient id="g49"><stop offset="0.000" stop-color="#4c4c4c" stop-opacity="1.000"/><stop offset="0.100" stop-color="#4c4c4c" stop-opacity="0.966"/><stop offset="0.200" stop-color="#4c4c4c" stop-opacity="0.869"/><stop offset="0.300" stop-color="#4c4c4c" stop-opacity="0.728"/><stop offset="0.400" stop-color="#4c4c4c" stop-opacity="0.568"/><stop offset="0.500" stop-color="#4c4c4c" stop-opacity="0.409"/><stop offset="0.600" stop-color="#4c4c4c" stop-opacity="0.271"/><stop offset="0.700" stop-color="#4c4c4c" stop-opacity="0.162"/><stop offset="0.800" stop-color="#4c4c4c" stop-opacity="0.084"/><stop offset="0.900" stop-color="#4c4c4c" stop-opacity="0.032"/><stop offset="1.000" stop-color="#4c4c4c" stop-opacity="0.000"/></radialGradient><radialGradient id="g50"><stop offset="0.000" stop-color="#4c4c4c" stop-opacity="1.000"/><stop offset="0.100" stop-color="#4c4c4c" stop-opacity="0.966"/><stop offset="0.200" stop-color="#4c4c4c" stop-opacity="0.869"/><stop offset="0.300" stop-color="#4c4c4c" stop-opacity="0.728"/><stop offset="0.400" stop-color="#4c4c4c" stop-opacity="0.568"/><stop offset="0.500" stop-color="#4c4c4c" stop-opacity="0.409"/><stop offset="0.600" stop-color="#4c4c4c" stop-opacity="0.271"/><stop offset="0.700" stop-color="#4c4c4c" stop-opacity="0.162"/><stop offset="0.800" stop-color="#4c4c4c" stop-opacity="0.084"/><stop offset="0.900" stop-color="#4c4c4c" stop-opacity="0.032"/><stop offset="1.000" stop-color="#4c4c4c" stop-opacity="0.000"/></radialGradient><radialGradient id="g51"><stop offset="0.000" stop-color="#4c4c4c" stop-opacity="1.000"/><stop offset="0.100" stop-color="#4c4c4c" stop-opacity="0.966"/><stop offset="0.200" stop-color="#4c4c4c" stop-opacity="0.869"/><stop offset="0.300" stop-color="#4c4c4c" stop-opacity="0.728"/><stop offset="0.400" stop-color="#4c4c4c" stop-opacity="0.568"/><stop offset="0.500" stop-color="#4c4c4c" stop-opacity="0.409"/><stop offset="0.600" stop-color="#4c4c4c" stop-opacity="0.271"/><stop offset="0.700" stop-color="#4c4c4c" stop-opacity="0.162"/><stop offset="0.800" stop-color="#4c4c4c" stop-opacity="0.084"/><stop offset="0.900" stop-color="#4c4c4c" stop-opacity="0.032"/><stop offset="1.000" stop-color="#4c4c4c" stop-opacity="0.000"/></radialGradient><radialGradient id="g52"><stop offset="0.000" stop-color="#ffffff" stop-opacity="1.000"/><stop offset="0.100" stop-color="#ffffff" stop-opacity="0.966"/><stop offset="0.200" stop-color="#ffffff" stop-opacity="0.869"/><stop offset="0.300" stop-color="#ffffff" stop-opacity="0.728"/><stop offset="0.400" stop-color="#ffffff" stop-opacity="0.568"/><stop offset="0.500" stop-color="#ffffff" stop-opacity="0.409"/><stop offset="0.600" stop-color="#ffffff" stop-opacity="0.271"/><stop offset="0.700" stop-color="#ffffff" stop-opacity="0.162"/><stop offset="0.800" stop-color="#ffffff" stop-opacity="0.084"/><stop offset="0.900" stop-color="#ffffff" stop-opacity="0.032"/><stop offset="1.000" stop-color="#ffffff" stop-opacity="0.000"/></radialGradient><radialGradient id="g53"><stop offset="0.000" stop-color="#d9d9d9" stop-opacity="1.000"/><stop offset="0.100" stop-color="#d9d9d9" stop-opacity="0.966"/><stop offset="0.200" stop-color="#d9d9d9" stop-opacity="0.869"/><stop offset="0.300" stop-color="#d9d9d9" stop-opacity="0.728"/><stop offset="0.400" stop-color="#d9d9d9" stop-opacity="0.568"/><stop offset="0.500" stop-color="#d9d9d9" stop-opacity="0.409"/><stop offset="0.600" stop-color="#d9d9d9" stop-opacity="0.271"/><stop offset="0.700" stop-color="#d9d9d9" stop-opacity="0.162"/><stop offset="0.800" stop-color="#d9d9d9" stop-opacity="0.084"/><stop offset="0.900" stop-color="#d9d9d9" stop-opacity="0.032"/><stop offset="1.000" stop-color="#d9d9d9" stop-opacity="0.000"/></radialGradient><radialGradient id="g54"><stop offset="0.000" stop-color="#ffffff" stop-opacity="1.000"/><stop offset="0.100" stop-color="#ffffff" stop-opacity="0.966"/><stop offset="0.200" stop-color="#ffffff" stop-opacity="0.869"/><stop offset="0.300" stop-color="#ffffff" stop-opacity="0.728"/><stop offset="0.400" stop-color="#ffffff" stop-opacity="0.568"/><stop offset="0.500" stop-color="#ffffff" stop-opacity="0.409"/><stop offset="0.600" stop-color="#ffffff" stop-opacity="0.271"/><stop offset="0.700" stop-color="#ffffff" stop-opacity="0.162"/><stop offset="0.800" stop-color="#ffffff" stop-opacity="0.084"/><stop offset="0.900" stop-color="#ffffff" stop-opacity="0.032"/><stop offset="1.000" stop-color="#ffffff" stop-opacity="0.000"/></radialGradient><radialGradient id="g55"><stop offset="0.000" stop-color="#ebebeb" stop-opacity="1.000"/><stop offset="0.100" stop-color="#ebebeb" stop-opacity="0.966"/><stop offset="0.200" stop-color="#ebebeb" stop-opacity="0.869"/><stop offset="0.300" stop-color="#ebebeb" stop-opacity="0.728"/><stop offset="0.400" stop-color="#ebebeb" stop-opacity="0.568"/><stop offset="0.500" stop-color="#ebebeb" stop-opacity="0.409"/><stop offset="0.600" stop-color="#ebebeb" stop-opacity="0.271"/><stop offset="0.700" stop-color="#ebebeb" stop-opacity="0.162"/><stop offset="0.800" stop-color="#ebebeb" stop-opacity="0.084"/><stop offset="0.900" stop-color="#ebebeb" stop-opacity="0.032"/><stop offset="1.000" stop-color="#ebebeb" stop-opacity="0.000"/></radialGradient><radialGradient id="g56"><stop offset="0.000" stop-color="#2b2b2b" stop-opacity="1.000"/><stop offset="0.100" stop-color="#2b2b2b" stop-opacity="0.977"/><stop offset="0.200" stop-color="#2b2b2b" stop-opacity="0.911"/><stop offset="0.300" stop-color="#2b2b2b" stop-opacity="0.809"/><stop offset="0.400" stop-color="#2b2b2b" stop-opacity="0.683"/><stop offset="0.500" stop-color="#2b2b2b" stop-opacity="0.545"/><stop offset="0.600" stop-color="#2b2b2b" stop-opacity="0.406"/><stop offset="0.700" stop-color="#2b2b2b" stop-opacity="0.278"/><stop offset="0.800" stop-color="#2b2b2b" stop-opacity="0.165"/><stop offset="0.900" stop-color="#2b2b2b" stop-opacity="0.072"/><stop offset="1.000" stop-color="#2b2b2b" stop-opacity="0.000"/></radialGradient><radialGradient id="g57"><stop offset="0.000" stop-color="#404040" stop-opacity="1.000"/><stop offset="0.100" stop-color="#404040" stop-opacity="0.966"/><stop offset="0.200" stop-color="#404040" stop-opacity="0.869"/><stop offset="0.300" stop-color="#404040" stop-opacity="0.728"/><stop offset="0.400" stop-color="#404040" stop-opacity="0.568"/><stop offset="0.500" stop-color="#404040" stop-opacity="0.409"/><stop offset="0.600" stop-color="#404040" stop-opacity="0.271"/><stop offset="0.700" stop-color="#404040" stop-opacity="0.162"/><stop offset="0.800" stop-color="#404040" stop-opacity="0.084"/><stop offset="0.900" stop-color="#404040" stop-opacity="0.032"/><stop offset="1.000" stop-color="#404040" stop-opacity="0.000"/></radialGradient><radialGradient id="g58"><stop offset="0.000" stop-color="#404040" stop-opacity="1.000"/><stop offset="0.100" stop-color="#404040" stop-opacity="0.966"/><stop offset="0.200" stop-color="#404040" stop-opacity="0.869"/><stop offset="0.300" stop-color="#404040" stop-opacity="0.728"/><stop offset="0.400" stop-color="#404040" stop-opacity="0.568"/><stop offset="0.500" stop-color="#404040" stop-opacity="0.409"/><stop offset="0.600" stop-color="#404040" stop-opacity="0.271"/><stop offset="0.700" stop-color="#404040" stop-opacity="0.162"/><stop offset="0.800" stop-color="#404040" stop-opacity="0.084"/><stop offset="0.900" stop-color="#404040" stop-opacity="0.032"/><stop offset="1.000" stop-color="#404040" stop-opacity="0.000"/></radialGradient><radialGradient id="g59"><stop offset="0.000" stop-color="#404040" stop-opacity="1.000"/><stop offset="0.100" stop-color="#404040" stop-opacity="0.966"/><stop offset="0.200" stop-color="#404040" stop-opacity="0.869"/><stop offset="0.300" stop-color="#404040" stop-opacity="0.728"/><stop offset="0.400" stop-color="#404040" stop-opacity="0.568"/><stop offset="0.500" stop-color="#404040" stop-opacity="0.409"/><stop offset="0.600" stop-color="#404040" stop-opacity="0.271"/><stop offset="0.700" stop-color="#404040" stop-opacity="0.162"/><stop offset="0.800" stop-color="#404040" stop-opacity="0.084"/><stop offset="0.900" stop-color="#404040" stop-opacity="0.032"/><stop offset="1.000" stop-color="#404040" stop-opacity="0.000"/></radialGradient><radialGradient id="g60"><stop offset="0.000" stop-color="#ffffff" stop-opacity="1.000"/><stop offset="0.100" stop-color="#ffffff" stop-opacity="0.966"/><stop offset="0.200" stop-color="#ffffff" stop-opacity="0.869"/><stop offset="0.300" stop-color="#ffffff" stop-opacity="0.728"/><stop offset="0.400" stop-color="#ffffff" stop-opacity="0.568"/><stop offset="0.500" stop-color="#ffffff" stop-opacity="0.409"/><stop offset="0.600" stop-color="#ffffff" stop-opacity="0.271"/><stop offset="0.700" stop-color="#ffffff" stop-opacity="0.162"/><stop offset="0.800" stop-color="#ffffff" stop-opacity="0.084"/><stop offset="0.900" stop-color="#ffffff" stop-opacity="0.032"/><stop offset="1.000" stop-color="#ffffff" stop-opacity="0.000"/></radialGradient><radialGradient id="g61"><stop offset="0.000" stop-color="#f2f2f2" stop-opacity="1.000"/><stop offset="0.100" stop-color="#f2f2f2" stop-opacity="0.966"/><stop offset="0.200" stop-color="#f2f2f2" stop-opacity="0.869"/><stop offset="0.300" stop-color="#f2f2f2" stop-opacity="0.728"/><stop offset="0.400" stop-color="#f2f2f2" stop-opacity="0.568"/><stop offset="0.500" stop-color="#f2f2f2" stop-opacity="0.409"/><stop offset="0.600" stop-color="#f2f2f2" stop-opacity="0.271"/><stop offset="0.700" stop-color="#f2f2f2" stop-opacity="0.162"/><stop offset="0.800" stop-color="#f2f2f2" stop-opacity="0.084"/><stop offset="0.900" stop-color="#f2f2f2" stop-opacity="0.032"/><stop offset="1.000" stop-color="#f2f2f2" stop-opacity="0.000"/></radialGradient><radialGradient id="g62"><stop offset="0.000" stop-color="#a8a8a8" stop-opacity="1.000"/><stop offset="0.100" stop-color="#a8a8a8" stop-opacity="0.966"/><stop offset="0.200" stop-color="#a8a8a8" stop-opacity="0.869"/><stop offset="0.300" stop-color="#a8a8a8" stop-opacity="0.728"/><stop offset="0.400" stop-color="#a8a8a8" stop-opacity="0.568"/><stop offset="0.500" stop-color="#a8a8a8" stop-opacity="0.409"/><stop offset="0.600" stop-color="#a8a8a8" stop-opacity="0.271"/><stop offset="0.700" stop-color="#a8a8a8" stop-opacity="0.162"/><stop offset="0.800" stop-color="#a8a8a8" stop-opacity="0.084"/><stop offset="0.900" stop-color="#a8a8a8" stop-opacity="0.032"/><stop offset="1.000" stop-color="#a8a8a8" stop-opacity="0.000"/></radialGradient><radialGradient id="g63"><stop offset="0.000" stop-color="#242424" stop-opacity="1.000"/><stop offset="0.100" stop-color="#242424" stop-opacity="0.977"/><stop offset="0.200" stop-color="#242424" stop-opacity="0.911"/><stop offset="0.300" stop-color="#242424" stop-opacity="0.809"/><stop offset="0.400" stop-color="#242424" stop-opacity="0.683"/><stop offset="0.500" stop-color="#242424" stop-opacity="0.545"/><stop offset="0.600" stop-color="#242424" stop-opacity="0.406"/><stop offset="0.700" stop-color="#242424" stop-opacity="0.278"/><stop offset="0.800" stop-color="#242424" stop-opacity="0.165"/><stop offset="0.900" stop-color="#242424" stop-opacity="0.072"/><stop offset="1.000" stop-color="#242424" stop-opacity="0.000"/></radialGradient><radialGradient id="g64"><stop offset="0.000" stop-color="#4c4c4c" stop-opacity="1.000"/><stop offset="0.100" stop-color="#4c4c4c" stop-opacity="0.966"/><stop offset="0.200" stop-color="#4c4c4c" stop-opacity="0.869"/><stop offset="0.300" stop-color="#4c4c4c" stop-opacity="0.728"/><stop offset="0.400" stop-color="#4c4c4c" stop-opacity="0.568"/><stop offset="0.500" stop-color="#4c4c4c" stop-opacity="0.409"/><stop offset="0.600" stop-color="#4c4c4c" stop-opacity="0.271"/><stop offset="0.700" stop-color="#4c4c4c" stop-opacity="0.162"/><stop offset="0.800" stop-color="#4c4c4c" stop-opacity="0.084"/><stop offset="0.900" stop-color="#4c4c4c" stop-opacity="0.032"/><stop offset="1.000" stop-color="#4c4c4c" stop-opacity="0.000"/></radialGradient><radialGradient id="g65"><stop offset="0.000" stop-color="#4c4c4c" stop-opacity="1.000"/><stop offset="0.100" stop-color="#4c4c4c" stop-opacity="0.966"/><stop offset="0.200" stop-color="#4c4c4c" stop-opacity="0.869"/><stop offset="0.300" stop-color="#4c4c4c" stop-opacity="0.728"/><stop offset="0.400" stop-color="#4c4c4c" stop-opacity="0.568"/><stop offset="0.500" stop-color="#4c4c4c" stop-opacity="0.409"/><stop offset="0.600" stop-color="#4c4c4c" stop-opacity="0.271"/><stop offset="0.700" stop-color="#4c4c4c" stop-opacity="0.162"/><stop offset="0.800" stop-color="#4c4c4c" stop-opacity="0.084"/><stop offset="0.900" stop-color="#4c4c4c" stop-opacity="0.032"/><stop offset="1.000" stop-color="#4c4c4c" stop-opacity="0.000"/></radialGradient><radialGradient id="g66"><stop offset="0.000" stop-color="#4c4c4c" stop-opacity="1.000"/><stop offset="0.100" stop-color="#4c4c4c" stop-opacity="0.966"/><stop offset="0.200" stop-color="#4c4c4c" stop-opacity="0.869"/><stop offset="0.300" stop-color="#4c4c4c" stop-opacity="0.728"/><stop offset="0.400" stop-color="#4c4c4c" stop-opacity="0.568"/><stop offset="0.500" stop-color="#4c4c4c" stop-opacity="0.409"/><stop offset="0.600" stop-color="#4c4c4c" stop-opacity="0.271"/><stop offset="0.700" stop-color="#4c4c4c" stop-opacity="0.162"/><stop offset="0.800" stop-color="#4c4c4c" stop-opacity="0.084"/><stop offset="0.900" stop-color="#4c4c4c" stop-opacity="0.032"/><stop offset="1.000" stop-color="#4c4c4c" stop-opacity="0.000"/></radialGradient><radialGradient id="g67"><stop offset="0.000" stop-color="#4c4c4c" stop-opacity="1.000"/><stop offset="0.100" stop-color="#4c4c4c" stop-opacity="0.966"/><stop offset="0.200" stop-color="#4c4c4c" stop-opacity="0.869"/><stop offset="0.300" stop-color="#4c4c4c" stop-opacity="0.728"/><stop offset="0.400" stop-color="#4c4c4c" stop-opacity="0.568"/><stop offset="0.500" stop-color="#4c4c4c" stop-opacity="0.409"/><stop offset="0.600" stop-color="#4c4c4c" stop-opacity="0.271"/><stop offset="0.700" stop-color="#4c4c4c" stop-opacity="0.162"/><stop offset="0.800" stop-color="#4c4c4c" stop-opacity="0.084"/><stop offset="0.900" stop-color="#4c4c4c" stop-opacity="0.032"/><stop offset="1.000" stop-color="#4c4c4c" stop-opacity="0.000"/></radialGradient><radialGradient id="g68"><stop offset="0.000" stop-color="#dbdbdb" stop-opacity="1.000"/><stop offset="0.100" stop-color="#dbdbdb" stop-opacity="0.966"/><stop offset="0.200" stop-color="#dbdbdb" stop-opacity="0.869"/><stop offset="0.300" stop-color="#dbdbdb" stop-opacity="0.728"/><stop offset="0.400" stop-color="#dbdbdb" stop-opacity="0.568"/><stop offset="0.500" stop-color="#dbdbdb" stop-opacity="0.409"/><stop offset="0.600" stop-color="#dbdbdb" stop-opacity="0.271"/><stop offset="0.700" stop-color="#dbdbdb" stop-opacity="0.162"/><stop offset="0.800" stop-color="#dbdbdb" stop-opacity="0.084"/><stop offset="0.900" stop-color="#dbdbdb" stop-opacity="0.032"/><stop offset="1.000" stop-color="#dbdbdb" stop-opacity="0.000"/></radialGradient><radialGradient id="g69"><stop offset="0.000" stop-color="#ffffff" stop-opacity="1.000"/><stop offset="0.100" stop-color="#ffffff" stop-opacity="0.966"/><stop offset="0.200" stop-color="#ffffff" stop-opacity="0.869"/><stop offset="0.300" stop-color="#ffffff" stop-opacity="0.728"/><stop offset="0.400" stop-color="#ffffff" stop-opacity="0.568"/><stop offset="0.500" stop-color="#ffffff" stop-opacity="0.409"/><stop offset="0.600" stop-color="#ffffff" stop-opacity="0.271"/><stop offset="0.700" stop-color="#ffffff" stop-opacity="0.162"/><stop offset="0.800" stop-color="#ffffff" stop-opacity="0.084"/><stop offset="0.900" stop-color="#ffffff" stop-opacity="0.032"/><stop offset="1.000" stop-color="#ffffff" stop-opacity="0.000"/></radialGradient><radialGradient id="g70"><stop offset="0.000" stop-color="#ffffff" stop-opacity="1.000"/><stop offset="0.100" stop-color="#ffffff" stop-opacity="0.966"/><stop offset="0.200" stop-color="#ffffff" stop-opacity="0.869"/><stop offset="0.300" stop-color="#ffffff" stop-opacity="0.728"/><stop offset="0.400" stop-color="#ffffff" stop-opacity="0.568"/><stop offset="0.500" stop-color="#ffffff" stop-opacity="0.409"/><stop offset="0.600" stop-color="#ffffff" stop-opacity="0.271"/><stop offset="0.700" stop-color="#ffffff" stop-opacity="0.162"/><stop offset="0.800" stop-color="#ffffff" stop-opacity="0.084"/><stop offset="0.900" stop-color="#ffffff" stop-opacity="0.032"/><stop offset="1.000" stop-color="#ffffff" stop-opacity="0.000"/></radialGradient><radialGradient id="g71"><stop offset="0.000" stop-color="#f7f7f7" stop-opacity="1.000"/><stop offset="0.100" stop-color="#f7f7f7" stop-opacity="0.966"/><stop offset="0.200" stop-color="#f7f7f7" stop-opacity="0.869"/><stop offset="0.300" stop-color="#f7f7f7" stop-opacity="0.728"/><stop offset="0.400" stop-color="#f7f7f7" stop-opacity="0.568"/><stop offset="0.500" stop-color="#f7f7f7" stop-opacity="0.409"/><stop offset="0.600" stop-color="#f7f7f7" stop-opacity="0.271"/><stop offset="0.700" stop-color="#f7f7f7" stop-opacity="0.162"/><stop offset="0.800" stop-color="#f7f7f7" stop-opacity="0.084"/><stop offset="0.900" stop-color="#f7f7f7" stop-opacity="0.032"/><stop offset="1.000" stop-color="#f7f7f7" stop-opacity="0.000"/></radialGradient><radialGradient id="art"><stop offset="0" stop-color="#5a3a0c"/><stop offset="0.5" stop-color="#2c1a0a" stop-opacity="0.8"/><stop offset="1" stop-color="#050308" stop-opacity="0"/></radialGradient><radialGradient id="g72"><stop offset="0.000" stop-color="#787878" stop-opacity="1.000"/><stop offset="0.100" stop-color="#787878" stop-opacity="0.974"/><stop offset="0.200" stop-color="#787878" stop-opacity="0.899"/><stop offset="0.300" stop-color="#787878" stop-opacity="0.785"/><stop offset="0.400" stop-color="#787878" stop-opacity="0.648"/><stop offset="0.500" stop-color="#787878" stop-opacity="0.502"/><stop offset="0.600" stop-color="#787878" stop-opacity="0.362"/><stop offset="0.700" stop-color="#787878" stop-opacity="0.238"/><stop offset="0.800" stop-color="#787878" stop-opacity="0.136"/><stop offset="0.900" stop-color="#787878" stop-opacity="0.057"/><stop offset="1.000" stop-color="#787878" stop-opacity="0.000"/></radialGradient><radialGradient id="g73"><stop offset="0.000" stop-color="#9c9c9c" stop-opacity="1.000"/><stop offset="0.100" stop-color="#9c9c9c" stop-opacity="0.972"/><stop offset="0.200" stop-color="#9c9c9c" stop-opacity="0.892"/><stop offset="0.300" stop-color="#9c9c9c" stop-opacity="0.772"/><stop offset="0.400" stop-color="#9c9c9c" stop-opacity="0.629"/><stop offset="0.500" stop-color="#9c9c9c" stop-opacity="0.479"/><stop offset="0.600" stop-color="#9c9c9c" stop-opacity="0.339"/><stop offset="0.700" stop-color="#9c9c9c" stop-opacity="0.218"/><stop offset="0.800" stop-color="#9c9c9c" stop-opacity="0.122"/><stop offset="0.900" stop-color="#9c9c9c" stop-opacity="0.050"/><stop offset="1.000" stop-color="#9c9c9c" stop-opacity="0.000"/></radialGradient><radialGradient id="g74"><stop offset="0.000" stop-color="#b8b8b8" stop-opacity="1.000"/><stop offset="0.100" stop-color="#b8b8b8" stop-opacity="0.970"/><stop offset="0.200" stop-color="#b8b8b8" stop-opacity="0.885"/><stop offset="0.300" stop-color="#b8b8b8" stop-opacity="0.758"/><stop offset="0.400" stop-color="#b8b8b8" stop-opacity="0.609"/><stop offset="0.500" stop-color="#b8b8b8" stop-opacity="0.456"/><stop offset="0.600" stop-color="#b8b8b8" stop-opacity="0.316"/><stop offset="0.700" stop-color="#b8b8b8" stop-opacity="0.199"/><stop offset="0.800" stop-color="#b8b8b8" stop-opacity="0.108"/><stop offset="0.900" stop-color="#b8b8b8" stop-opacity="0.043"/><stop offset="1.000" stop-color="#b8b8b8" stop-opacity="0.000"/></radialGradient><radialGradient id="g75"><stop offset="0.000" stop-color="#f2f2f2" stop-opacity="1.000"/><stop offset="0.100" stop-color="#f2f2f2" stop-opacity="0.966"/><stop offset="0.200" stop-color="#f2f2f2" stop-opacity="0.869"/><stop offset="0.300" stop-color="#f2f2f2" stop-opacity="0.728"/><stop offset="0.400" stop-color="#f2f2f2" stop-opacity="0.568"/><stop offset="0.500" stop-color="#f2f2f2" stop-opacity="0.409"/><stop offset="0.600" stop-color="#f2f2f2" stop-opacity="0.271"/><stop offset="0.700" stop-color="#f2f2f2" stop-opacity="0.162"/><stop offset="0.800" stop-color="#f2f2f2" stop-opacity="0.084"/><stop offset="0.900" stop-color="#f2f2f2" stop-opacity="0.032"/><stop offset="1.000" stop-color="#f2f2f2" stop-opacity="0.000"/></radialGradient><radialGradient id="g76"><stop offset="0.000" stop-color="#787878" stop-opacity="1.000"/><stop offset="0.100" stop-color="#787878" stop-opacity="0.974"/><stop offset="0.200" stop-color="#787878" stop-opacity="0.899"/><stop offset="0.300" stop-color="#787878" stop-opacity="0.785"/><stop offset="0.400" stop-color="#787878" stop-opacity="0.648"/><stop offset="0.500" stop-color="#787878" stop-opacity="0.502"/><stop offset="0.600" stop-color="#787878" stop-opacity="0.362"/><stop offset="0.700" stop-color="#787878" stop-opacity="0.238"/><stop offset="0.800" stop-color="#787878" stop-opacity="0.136"/><stop offset="0.900" stop-color="#787878" stop-opacity="0.057"/><stop offset="1.000" stop-color="#787878" stop-opacity="0.000"/></radialGradient><radialGradient id="g77"><stop offset="0.000" stop-color="#9c9c9c" stop-opacity="1.000"/><stop offset="0.100" stop-color="#9c9c9c" stop-opacity="0.972"/><stop offset="0.200" stop-color="#9c9c9c" stop-opacity="0.892"/><stop offset="0.300" stop-color="#9c9c9c" stop-opacity="0.772"/><stop offset="0.400" stop-color="#9c9c9c" stop-opacity="0.629"/><stop offset="0.500" stop-color="#9c9c9c" stop-opacity="0.479"/><stop offset="0.600" stop-color="#9c9c9c" stop-opacity="0.339"/><stop offset="0.700" stop-color="#9c9c9c" stop-opacity="0.218"/><stop offset="0.800" stop-color="#9c9c9c" stop-opacity="0.122"/><stop offset="0.900" stop-color="#9c9c9c" stop-opacity="0.050"/><stop offset="1.000" stop-color="#9c9c9c" stop-opacity="0.000"/></radialGradient><radialGradient id="g78"><stop offset="0.000" stop-color="#b8b8b8" stop-opacity="1.000"/><stop offset="0.100" stop-color="#b8b8b8" stop-opacity="0.970"/><stop offset="0.200" stop-color="#b8b8b8" stop-opacity="0.885"/><stop offset="0.300" stop-color="#b8b8b8" stop-opacity="0.758"/><stop offset="0.400" stop-color="#b8b8b8" stop-opacity="0.609"/><stop offset="0.500" stop-color="#b8b8b8" stop-opacity="0.456"/><stop offset="0.600" stop-color="#b8b8b8" stop-opacity="0.316"/><stop offset="0.700" stop-color="#b8b8b8" stop-opacity="0.199"/><stop offset="0.800" stop-color="#b8b8b8" stop-opacity="0.108"/><stop offset="0.900" stop-color="#b8b8b8" stop-opacity="0.043"/><stop offset="1.000" stop-color="#b8b8b8" stop-opacity="0.000"/></radialGradient><radialGradient id="g79"><stop offset="0.000" stop-color="#f2f2f2" stop-opacity="1.000"/><stop offset="0.100" stop-color="#f2f2f2" stop-opacity="0.966"/><stop offset="0.200" stop-color="#f2f2f2" stop-opacity="0.869"/><stop offset="0.300" stop-color="#f2f2f2" stop-opacity="0.728"/><stop offset="0.400" stop-color="#f2f2f2" stop-opacity="0.568"/><stop offset="0.500" stop-color="#f2f2f2" stop-opacity="0.409"/><stop offset="0.600" stop-color="#f2f2f2" stop-opacity="0.271"/><stop offset="0.700" stop-color="#f2f2f2" stop-opacity="0.162"/><stop offset="0.800" stop-color="#f2f2f2" stop-opacity="0.084"/><stop offset="0.900" stop-color="#f2f2f2" stop-opacity="0.032"/><stop offset="1.000" stop-color="#f2f2f2" stop-opacity="0.000"/></radialGradient><radialGradient id="g80"><stop offset="0.000" stop-color="#757575" stop-opacity="1.000"/><stop offset="0.100" stop-color="#757575" stop-opacity="0.974"/><stop offset="0.200" stop-color="#757575" stop-opacity="0.899"/><stop offset="0.300" stop-color="#757575" stop-opacity="0.785"/><stop offset="0.400" stop-color="#757575" stop-opacity="0.648"/><stop offset="0.500" stop-color="#757575" stop-opacity="0.502"/><stop offset="0.600" stop-color="#757575" stop-opacity="0.362"/><stop offset="0.700" stop-color="#757575" stop-opacity="0.238"/><stop offset="0.800" stop-color="#757575" stop-opacity="0.136"/><stop offset="0.900" stop-color="#757575" stop-opacity="0.057"/><stop offset="1.000" stop-color="#757575" stop-opacity="0.000"/></radialGradient><radialGradient id="g81"><stop offset="0.000" stop-color="#949494" stop-opacity="1.000"/><stop offset="0.100" stop-color="#949494" stop-opacity="0.974"/><stop offset="0.200" stop-color="#949494" stop-opacity="0.899"/><stop offset="0.300" stop-color="#949494" stop-opacity="0.785"/><stop offset="0.400" stop-color="#949494" stop-opacity="0.648"/><stop offset="0.500" stop-color="#949494" stop-opacity="0.502"/><stop offset="0.600" stop-color="#949494" stop-opacity="0.362"/><stop offset="0.700" stop-color="#949494" stop-opacity="0.238"/><stop offset="0.800" stop-color="#949494" stop-opacity="0.136"/><stop offset="0.900" stop-color="#949494" stop-opacity="0.057"/><stop offset="1.000" stop-color="#949494" stop-opacity="0.000"/></radialGradient><radialGradient id="g82"><stop offset="0.000" stop-color="#adadad" stop-opacity="1.000"/><stop offset="0.100" stop-color="#adadad" stop-opacity="0.970"/><stop offset="0.200" stop-color="#adadad" stop-opacity="0.885"/><stop offset="0.300" stop-color="#adadad" stop-opacity="0.758"/><stop offset="0.400" stop-color="#adadad" stop-opacity="0.609"/><stop offset="0.500" stop-color="#adadad" stop-opacity="0.456"/><stop offset="0.600" stop-color="#adadad" stop-opacity="0.316"/><stop offset="0.700" stop-color="#adadad" stop-opacity="0.199"/><stop offset="0.800" stop-color="#adadad" stop-opacity="0.108"/><stop offset="0.900" stop-color="#adadad" stop-opacity="0.043"/><stop offset="1.000" stop-color="#adadad" stop-opacity="0.000"/></radialGradient><clipPath id="c83"><ellipse cx="153" cy="173" rx="100" ry="105"/></clipPath></defs><rect x="0" y="0" width="2000" height="2163" fill="#fff"/>
<rect x="0" y="61" width="2000" height="1083.5" fill="#000"/>
<rect x="126.7" y="1164" width="1745.8" height="974.2" fill="#000"/>
<text x="508" y="38.3" font-size="40.5" text-anchor="middle" font-weight="bold" fill="#000" letter-spacing="-2.6">cELS</text>
<text x="1520.8" y="34.3" font-size="39.6" text-anchor="middle" font-weight="bold" fill="#000" letter-spacing="0.95">Dark field (DF)</text>
<svg x="87" y="65" width="305" height="350" overflow="hidden"><g filter="url(#cmS)"><rect x="-5" y="-5" width="315" height="360" fill="#030303"/><g transform="translate(0.5 0)"><ellipse cx="112.0" cy="96.5" rx="26.2" ry="26.2" fill="url(#g1)"/><ellipse cx="137.5" cy="82.0" rx="26.2" ry="26.2" fill="url(#g2)"/><ellipse cx="157.0" cy="197.0" rx="25.2" ry="29.4" fill="url(#g3)"/><ellipse cx="158.5" cy="266.0" rx="26.2" ry="29.4" fill="url(#g4)"/></g></g></svg>
<svg x="87" y="426" width="305" height="350" overflow="hidden"><g filter="url(#cmS)"><rect x="-5" y="-5" width="315" height="360" fill="#030303"/><g transform="translate(0.5 0.5)"><ellipse cx="247.5" cy="48.5" rx="24.2" ry="24.2" fill="url(#g5)"/><ellipse cx="63.5" cy="126.5" rx="25.2" ry="25.2" fill="url(#g6)"/><ellipse cx="95.5" cy="236.5" rx="24.2" ry="24.2" fill="url(#g7)"/><ellipse cx="116.5" cy="249.5" rx="24.2" ry="24.2" fill="url(#g8)"/></g></g></svg>
<svg x="87" y="788" width="305" height="350" overflow="hidden"><g filter="url(#cmS)"><rect x="-5" y="-5" width="315" height="360" fill="#030303"/><g transform="translate(0.5 0)"><ellipse cx="111.1" cy="41.0" rx="23.1" ry="23.1" fill="url(#g9)"/><ellipse cx="113.5" cy="78.0" rx="18.9" ry="21.0" fill="url(#g10)"/><ellipse cx="125.5" cy="135.0" rx="23.1" ry="25.2" fill="url(#g11)"/><ellipse cx="142.5" cy="228.0" rx="23.1" ry="23.1" fill="url(#g12)"/><ellipse cx="143.5" cy="262.0" rx="18.9" ry="18.9" fill="url(#g13)"/><ellipse cx="161.5" cy="292.0" rx="18.9" ry="18.9" fill="url(#g14)"/><ellipse cx="165.5" cy="320.0" rx="23.1" ry="23.1" fill="url(#g15)"/></g></g></svg>
<svg x="573" y="65" width="305" height="350" overflow="hidden"><g filter="url(#nF1)"><rect x="-5" y="-5" width="315" height="360" fill="#404040"/><rect x="0" y="0" width="305" height="352" fill="url(#p16)"/><rect x="0" y="0" width="305" height="352" fill="url(#p17)" style="mix-blend-mode:plus-lighter"/><ellipse cx="33.0" cy="175.0" rx="50.5" ry="87.1" fill="url(#g18)"/><ellipse cx="272.0" cy="175.0" rx="50.5" ry="87.1" fill="url(#g19)"/><ellipse cx="153.0" cy="44.0" rx="92.2" ry="83.8" fill="url(#g20)"/><ellipse cx="157.0" cy="308.0" rx="92.2" ry="79.6" fill="url(#g21)"/><ellipse cx="152.0" cy="179.0" rx="113.1" ry="128.2" fill="url(#g22)"/><ellipse cx="152.0" cy="178.0" rx="71.3" ry="64.4" fill="url(#g23)"/><g clip-path="url(#c24)" opacity="0.09"><g transform="rotate(-8 151 178)"><rect x="31.0" y="68.0" width="240" height="5.5" fill="#4c4c4c"/><rect x="31.0" y="79.0" width="240" height="5.5" fill="#4c4c4c"/><rect x="31.0" y="90.0" width="240" height="5.5" fill="#4c4c4c"/><rect x="31.0" y="101.0" width="240" height="5.5" fill="#4c4c4c"/><rect x="31.0" y="112.0" width="240" height="5.5" fill="#4c4c4c"/><rect x="31.0" y="123.0" width="240" height="5.5" fill="#4c4c4c"/><rect x="31.0" y="134.0" width="240" height="5.5" fill="#4c4c4c"/><rect x="31.0" y="145.0" width="240" height="5.5" fill="#4c4c4c"/><rect x="31.0" y="156.0" width="240" height="5.5" fill="#4c4c4c"/><rect x="31.0" y="167.0" width="240" height="5.5" fill="#4c4c4c"/><rect x="31.0" y="178.0" width="240" height="5.5" fill="#4c4c4c"/><rect x="31.0" y="189.0" width="240" height="5.5" fill="#4c4c4c"/><rect x="31.0" y="200.0" width="240" height="5.5" fill="#4c4c4c"/><rect x="31.0" y="211.0" width="240" height="5.5" fill="#4c4c4c"/><rect x="31.0" y="222.0" width="240" height="5.5" fill="#4c4c4c"/><rect x="31.0" y="233.0" width="240" height="5.5" fill="#4c4c4c"/><rect x="31.0" y="244.0" width="240" height="5.5" fill="#4c4c4c"/><rect x="31.0" y="255.0" width="240" height="5.5" fill="#4c4c4c"/><rect x="31.0" y="266.0" width="240" height="5.5" fill="#4c4c4c"/><rect x="31.0" y="277.0" width="240" height="5.5" fill="#4c4c4c"/><rect x="31.0" y="288.0" width="240" height="5.5" fill="#4c4c4c"/></g></g></g></svg>
<svg x="573" y="426" width="305" height="350" overflow="hidden"><g filter="url(#nF2)"><rect x="-5" y="-5" width="315" height="360" fill="#424242"/><g transform="translate(0 0.5)"><rect x="0" y="0" width="305" height="352" fill="url(#p25)"/><rect x="0" y="0" width="305" height="352" fill="url(#p26)" style="mix-blend-mode:plus-lighter"/><ellipse cx="45.0" cy="44.0" rx="41.8" ry="48.8" fill="url(#g27)"/><ellipse cx="267.0" cy="48.0" rx="38.3" ry="48.8" fill="url(#g28)"/><ellipse cx="267.0" cy="312.0" rx="38.3" ry="48.8" fill="url(#g29)"/><ellipse cx="43.0" cy="312.0" rx="38.3" ry="48.8" fill="url(#g30)"/><ellipse cx="43.0" cy="180.0" rx="50.5" ry="104.5" fill="url(#g31)"/><ellipse cx="263.0" cy="170.0" rx="47.0" ry="104.5" fill="url(#g32)"/><ellipse cx="157.0" cy="42.0" rx="94.0" ry="57.5" fill="url(#g33)"/><ellipse cx="147.0" cy="314.0" rx="94.0" ry="57.5" fill="url(#g34)"/><ellipse cx="153.0" cy="178.0" rx="106.2" ry="121.9" fill="url(#g35)"/><ellipse cx="153.0" cy="176.0" rx="50.6" ry="92.0" fill="url(#g36)" transform="rotate(32 153 176)"/></g></g></svg>
<svg x="573" y="788" width="305" height="350" overflow="hidden"><g filter="url(#nF3)"><rect x="-5" y="-5" width="315" height="360" fill="#363636"/><rect x="0" y="0" width="305" height="352" fill="url(#p37)"/><rect x="0" y="0" width="305" height="352" fill="url(#p38)" style="mix-blend-mode:plus-lighter"/><ellipse cx="35.0" cy="182.0" rx="48.8" ry="87.1" fill="url(#g39)"/><ellipse cx="270.0" cy="178.0" rx="48.8" ry="87.1" fill="url(#g40)"/><ellipse cx="153.0" cy="42.0" rx="88.0" ry="83.8" fill="url(#g41)"/><ellipse cx="153.0" cy="314.0" rx="88.0" ry="79.6" fill="url(#g42)"/><ellipse cx="153.0" cy="180.0" rx="107.5" ry="143.3" fill="url(#g43)"/><ellipse cx="153.0" cy="178.0" rx="78.2" ry="69.0" fill="url(#g44)"/><g clip-path="url(#c45)" opacity="0.07"><g transform="rotate(-9 153 178)"><rect x="-102.0" y="-102.0" width="510" height="10.0" fill="#404040"/><rect x="-102.0" y="-82.0" width="510" height="10.0" fill="#404040"/><rect x="-102.0" y="-62.0" width="510" height="10.0" fill="#404040"/><rect x="-102.0" y="-42.0" width="510" height="10.0" fill="#404040"/><rect x="-102.0" y="-22.0" width="510" height="10.0" fill="#404040"/><rect x="-102.0" y="-2.0" width="510" height="10.0" fill="#404040"/><rect x="-102.0" y="18.0" width="510" height="10.0" fill="#404040"/><rect x="-102.0" y="38.0" width="510" height="10.0" fill="#404040"/><rect x="-102.0" y="58.0" width="510" height="10.0" fill="#404040"/><rect x="-102.0" y="78.0" width="510" height="10.0" fill="#404040"/><rect x="-102.0" y="98.0" width="510" height="10.0" fill="#404040"/><rect x="-102.0" y="118.0" width="510" height="10.0" fill="#404040"/><rect x="-102.0" y="138.0" width="510" height="10.0" fill="#404040"/><rect x="-102.0" y="158.0" width="510" height="10.0" fill="#404040"/><rect x="-102.0" y="178.0" width="510" height="10.0" fill="#404040"/><rect x="-102.0" y="198.0" width="510" height="10.0" fill="#404040"/><rect x="-102.0" y="218.0" width="510" height="10.0" fill="#404040"/><rect x="-102.0" y="238.0" width="510" height="10.0" fill="#404040"/><rect x="-102.0" y="258.0" width="510" height="10.0" fill="#404040"/><rect x="-102.0" y="278.0" width="510" height="10.0" fill="#404040"/><rect x="-102.0" y="298.0" width="510" height="10.0" fill="#404040"/><rect x="-102.0" y="318.0" width="510" height="10.0" fill="#404040"/><rect x="-102.0" y="338.0" width="510" height="10.0" fill="#404040"/><rect x="-102.0" y="358.0" width="510" height="10.0" fill="#404040"/><rect x="-102.0" y="378.0" width="510" height="10.0" fill="#404040"/><rect x="-102.0" y="398.0" width="510" height="10.0" fill="#404040"/><rect x="-102.0" y="418.0" width="510" height="10.0" fill="#404040"/><rect x="-102.0" y="438.0" width="510" height="10.0" fill="#404040"/><rect x="-102.0" y="458.0" width="510" height="10.0" fill="#404040"/></g></g><g clip-path="url(#c46)" opacity="0.12"><g transform="rotate(-9 153 178)"><rect x="33.0" y="58.0" width="240" height="10.0" fill="#404040"/><rect x="33.0" y="78.0" width="240" height="10.0" fill="#404040"/><rect x="33.0" y="98.0" width="240" height="10.0" fill="#404040"/><rect x="33.0" y="118.0" width="240" height="10.0" fill="#404040"/><rect x="33.0" y="138.0" width="240" height="10.0" fill="#404040"/><rect x="33.0" y="158.0" width="240" height="10.0" fill="#404040"/><rect x="33.0" y="178.0" width="240" height="10.0" fill="#404040"/><rect x="33.0" y="198.0" width="240" height="10.0" fill="#404040"/><rect x="33.0" y="218.0" width="240" height="10.0" fill="#404040"/><rect x="33.0" y="238.0" width="240" height="10.0" fill="#404040"/><rect x="33.0" y="258.0" width="240" height="10.0" fill="#404040"/><rect x="33.0" y="278.0" width="240" height="10.0" fill="#404040"/><rect x="33.0" y="298.0" width="240" height="10.0" fill="#404040"/></g></g></g></svg>
<svg x="1063" y="64" width="304" height="348" overflow="hidden"><g filter="url(#nB1)"><rect x="-5" y="-5" width="314" height="358" fill="#161616"/><g transform="translate(0.5 0.5)"><ellipse cx="20.0" cy="200.0" rx="140.0" ry="520.0" fill="url(#g47)"/><ellipse cx="35.5" cy="90.0" rx="41.6" ry="36.4" fill="url(#g48)"/><ellipse cx="50.5" cy="79.0" rx="39.0" ry="33.8" fill="url(#g49)"/><ellipse cx="78.5" cy="185.5" rx="33.8" ry="52.0" fill="url(#g50)"/><ellipse cx="82.0" cy="252.5" rx="36.4" ry="36.4" fill="url(#g51)"/><ellipse cx="35.5" cy="90.0" rx="20.8" ry="18.2" fill="url(#g52)"/><ellipse cx="50.5" cy="79.0" rx="19.5" ry="16.9" fill="url(#g53)"/><ellipse cx="78.5" cy="185.5" rx="16.9" ry="26.0" fill="url(#g54)"/><ellipse cx="82.0" cy="252.5" rx="18.2" ry="18.2" fill="url(#g55)"/></g></g></svg>
<svg x="1063" y="424" width="304" height="346" overflow="hidden"><g filter="url(#nB2)"><rect x="-5" y="-5" width="314" height="356" fill="#0f0f0f"/><g transform="translate(0.5 0)"><ellipse cx="-10.0" cy="300.0" rx="68.0" ry="240.0" fill="url(#g56)"/><ellipse cx="219.5" cy="53.0" rx="27.2" ry="32.1" fill="url(#g57)"/><ellipse cx="49.5" cy="135.0" rx="32.1" ry="32.1" fill="url(#g58)"/><ellipse cx="97.5" cy="249.0" rx="49.4" ry="59.3" fill="url(#g59)"/><ellipse cx="219.5" cy="53.0" rx="14.3" ry="16.9" fill="url(#g60)"/><ellipse cx="49.5" cy="135.0" rx="16.9" ry="16.9" fill="url(#g61)"/><ellipse cx="97.5" cy="249.0" rx="26.0" ry="31.2" fill="url(#g62)"/></g></g></svg>
<svg x="1063" y="791" width="304" height="347" overflow="hidden"><g filter="url(#nB3)"><rect x="-5" y="-5" width="314" height="357" fill="#161616"/><g transform="translate(0.5 0)"><ellipse cx="0.0" cy="180.0" rx="160.0" ry="520.0" fill="url(#g63)"/><ellipse cx="109.0" cy="44.0" rx="36.4" ry="36.4" fill="url(#g64)"/><ellipse cx="125.5" cy="134.0" rx="33.8" ry="36.4" fill="url(#g65)"/><ellipse cx="147.5" cy="219.0" rx="33.8" ry="36.4" fill="url(#g66)"/><ellipse cx="172.5" cy="302.0" rx="36.4" ry="36.4" fill="url(#g67)"/><ellipse cx="109.0" cy="44.0" rx="18.2" ry="18.2" fill="url(#g68)"/><ellipse cx="125.5" cy="134.0" rx="16.9" ry="18.2" fill="url(#g69)"/><ellipse cx="147.5" cy="219.0" rx="16.9" ry="18.2" fill="url(#g70)"/><ellipse cx="172.5" cy="302.0" rx="18.2" ry="18.2" fill="url(#g71)"/></g></g></svg>
<rect x="1306" y="299.5" width="53.5" height="47" fill="#050308"/>
<ellipse cx="1329" cy="322" rx="20" ry="20" fill="url(#art)"/>
<svg x="1541" y="64" width="306" height="348" overflow="hidden"><g filter="url(#nG1)"><rect x="-5" y="-5" width="316" height="358" fill="#5c5c5c"/><g transform="translate(0.5 0.5)"><ellipse cx="154.0" cy="177.0" rx="231.0" ry="253.0" fill="url(#g72)"/><ellipse cx="154.0" cy="177.0" rx="138.0" ry="151.8" fill="url(#g73)"/><ellipse cx="154.0" cy="177.0" rx="72.0" ry="79.2" fill="url(#g74)"/><ellipse cx="154.0" cy="177.0" rx="9.1" ry="7.8" fill="url(#g75)"/></g></g></svg>
<svg x="1541" y="424" width="306" height="346" overflow="hidden"><g filter="url(#nG2)"><rect x="-5" y="-5" width="316" height="356" fill="#5c5c5c"/><g transform="translate(0.5 0)"><ellipse cx="153.0" cy="174.0" rx="231.0" ry="253.0" fill="url(#g76)"/><ellipse cx="153.0" cy="174.0" rx="138.0" ry="151.8" fill="url(#g77)"/><ellipse cx="153.0" cy="174.0" rx="72.0" ry="79.2" fill="url(#g78)"/><ellipse cx="153.0" cy="174.0" rx="9.1" ry="7.8" fill="url(#g79)"/></g></g></svg>
<svg x="1541" y="791" width="306" height="347" overflow="hidden"><g filter="url(#nG3)"><rect x="-5" y="-5" width="316" height="357" fill="#5c5c5c"/><g transform="translate(0.5 0)"><ellipse cx="153.0" cy="173.0" rx="231.0" ry="253.0" fill="url(#g80)"/><ellipse cx="153.0" cy="173.0" rx="136.4" ry="127.6" fill="url(#g81)" transform="rotate(-35 153 173)"/><ellipse cx="153.0" cy="173.0" rx="72.0" ry="72.0" fill="url(#g82)"/><g clip-path="url(#c83)" opacity="0.28"><g transform="rotate(-11 153 173)"><rect x="3.0" y="20.0" width="300" height="8.5" fill="#333333"/><rect x="3.0" y="37.0" width="300" height="8.5" fill="#333333"/><rect x="3.0" y="54.0" width="300" height="8.5" fill="#333333"/><rect x="3.0" y="71.0" width="300" height="8.5" fill="#333333"/><rect x="3.0" y="88.0" width="300" height="8.5" fill="#333333"/><rect x="3.0" y="105.0" width="300" height="8.5" fill="#333333"/><rect x="3.0" y="122.0" width="300" height="8.5" fill="#333333"/><rect x="3.0" y="139.0" width="300" height="8.5" fill="#333333"/><rect x="3.0" y="156.0" width="300" height="8.5" fill="#333333"/><rect x="3.0" y="173.0" width="300" height="8.5" fill="#333333"/><rect x="3.0" y="190.0" width="300" height="8.5" fill="#333333"/><rect x="3.0" y="207.0" width="300" height="8.5" fill="#333333"/><rect x="3.0" y="224.0" width="300" height="8.5" fill="#333333"/><rect x="3.0" y="241.0" width="300" height="8.5" fill="#333333"/><rect x="3.0" y="258.0" width="300" height="8.5" fill="#333333"/><rect x="3.0" y="275.0" width="300" height="8.5" fill="#333333"/><rect x="3.0" y="292.0" width="300" height="8.5" fill="#333333"/><rect x="3.0" y="309.0" width="300" height="8.5" fill="#333333"/><rect x="3.0" y="326.0" width="300" height="8.5" fill="#333333"/></g></g></g></g></svg>
<rect x="87.5" y="65" width="304.5" height="350" fill="none" stroke="#a0a0a8" stroke-width="2"/>
<rect x="573" y="65" width="305" height="350" fill="none" stroke="#b8a8c8" stroke-width="2"/>
<rect x="353.5" y="68.5" width="35.5" height="25.7" fill="#fff"/>
<rect x="806.5" y="68.5" width="66.5" height="25.7" fill="#fff"/>
<rect x="87.5" y="426.5" width="304.5" height="349.5" fill="none" stroke="#a0a0a8" stroke-width="2"/>
<rect x="573" y="426.5" width="305" height="349.5" fill="none" stroke="#b8a8c8" stroke-width="2"/>
<rect x="353.5" y="430.0" width="35.5" height="25.7" fill="#fff"/>
<rect x="806.5" y="430.0" width="66.5" height="25.7" fill="#fff"/>
<rect x="87.5" y="788" width="304.5" height="349.5" fill="none" stroke="#a0a0a8" stroke-width="2"/>
<rect x="573" y="788" width="305" height="349.5" fill="none" stroke="#b8a8c8" stroke-width="2"/>
<rect x="353.5" y="791.5" width="35.5" height="25.7" fill="#fff"/>
<rect x="806.5" y="791.5" width="66.5" height="25.7" fill="#fff"/>
<rect x="1063.5" y="64.5" width="303.5" height="347.5" fill="none" stroke="#a8a8c0" stroke-width="2"/>
<rect x="1541.5" y="64.5" width="303.5" height="347.5" fill="none" stroke="#c8a8c0" stroke-width="2"/>
<rect x="1326" y="68.5" width="36" height="25.7" fill="#fff"/>
<rect x="1773.5" y="68.5" width="67" height="25.7" fill="#fff"/>
<rect x="1063.5" y="424" width="303.5" height="346" fill="none" stroke="#a8a8c0" stroke-width="2"/>
<rect x="1541.5" y="424" width="303.5" height="346" fill="none" stroke="#c8a8c0" stroke-width="2"/>
<rect x="1326" y="428" width="36" height="25.7" fill="#fff"/>
<rect x="1773.5" y="428" width="67" height="25.7" fill="#fff"/>
<rect x="1063.5" y="791" width="303.5" height="346.5" fill="none" stroke="#a8a8c0" stroke-width="2"/>
<rect x="1541.5" y="791" width="303.5" height="346.5" fill="none" stroke="#c8a8c0" stroke-width="2"/>
<rect x="1326" y="795" width="36" height="25.7" fill="#fff"/>
<rect x="1773.5" y="795" width="67" height="25.7" fill="#fff"/>
<path d="M575 241.4H877" stroke="#000" stroke-width="3.8" stroke-dasharray="14 10.6" fill="none"/>
<path d="M575 599.4H877" stroke="#000" stroke-width="3.8" stroke-dasharray="14 10.6" fill="none"/>
<path d="M575 961H877" stroke="#000" stroke-width="3.8" stroke-dasharray="14 10.6" fill="none"/>
<path d="M1543.5 240.6H1844" stroke="#000" stroke-width="3.8" stroke-dasharray="14 10.6" fill="none"/>
<path d="M1543.5 598H1844" stroke="#000" stroke-width="3.8" stroke-dasharray="14 10.6" fill="none"/>
<path d="M1543.5 966H1844" stroke="#000" stroke-width="3.8" stroke-dasharray="14 10.6" fill="none"/>
<rect x="180" y="123.3" width="69.4" height="67.8" fill="none" stroke="#ff0000" stroke-width="4"/>
<rect x="160.5" y="634" width="69" height="67.5" fill="none" stroke="#00b050" stroke-width="4"/>
<rect x="1075.5" y="124" width="69" height="67" fill="none" stroke="#ff0000" stroke-width="4" stroke-dasharray="4.3 4.3"/>
<rect x="1131.5" y="634" width="69.5" height="68" fill="none" stroke="#00b050" stroke-width="4" stroke-dasharray="4.3 4.3"/>
<text x="89.5" y="114.8" font-size="43" text-anchor="start" font-weight="bold" fill="#fff" letter-spacing="1">(a1)</text>
<text x="89.5" y="476.3" font-size="43" text-anchor="start" font-weight="bold" fill="#fff" letter-spacing="1">(a2)</text>
<text x="89.5" y="840.3" font-size="43" text-anchor="start" font-weight="bold" fill="#fff" letter-spacing="1">(a3)</text>
<text x="1069.6" y="106" font-size="43" text-anchor="start" font-weight="bold" fill="#fff" letter-spacing="1.6">(b1)</text>
<text x="1070.3" y="472.3" font-size="43" text-anchor="start" font-weight="bold" fill="#fff" letter-spacing="1.6">(b2)</text>
<text x="1073.2" y="838.8" font-size="43" text-anchor="start" font-weight="bold" fill="#fff" letter-spacing="1.6">(b3)</text>
<path d="M113.5 323.5V380H172" fill="none" stroke="#f0a30a" stroke-width="1.7"/><path d="M113.5 315.5l-6.3 12.5h12.6z" fill="#f0a30a"/><path d="M180 380l-12.5 -6.3v12.6z" fill="#f0a30a"/><text x="105.5" y="303" font-size="36" text-anchor="start" font-weight="normal" fill="#fff" >y</text><text x="188.5" y="393.3" font-size="36" text-anchor="start" font-weight="normal" fill="#fff" >x</text>
<path d="M592 323V379H650.5" fill="none" stroke="#f0a30a" stroke-width="1.7"/><path d="M592 315l-6.3 12.5h12.6z" fill="#f0a30a"/><path d="M658.5 379l-12.5 -6.3v12.6z" fill="#f0a30a"/><text x="583" y="302" font-size="33" text-anchor="start" font-weight="normal" fill="#fff" >ß</text><text x="666" y="392" font-size="33" text-anchor="start" font-weight="normal" fill="#fff" >α</text>
<path d="M1085.5 323V379H1143.5" fill="none" stroke="#f0a30a" stroke-width="1.7"/><path d="M1085.5 315l-6.3 12.5h12.6z" fill="#f0a30a"/><path d="M1151.5 379l-12.5 -6.3v12.6z" fill="#f0a30a"/><text x="1078" y="303" font-size="36" text-anchor="start" font-weight="normal" fill="#fff" >y</text><text x="1160.5" y="392.3" font-size="36" text-anchor="start" font-weight="normal" fill="#fff" >x</text>
<path d="M1564 323V379H1622" fill="none" stroke="#f0a30a" stroke-width="1.7"/><path d="M1564 315l-6.3 12.5h12.6z" fill="#f0a30a"/><path d="M1630 379l-12.5 -6.3v12.6z" fill="#f0a30a"/><text x="1555" y="302" font-size="33" text-anchor="start" font-weight="normal" fill="#fff" >ß</text><text x="1637.5" y="392" font-size="33" text-anchor="start" font-weight="normal" fill="#fff" >α</text>
<rect x="409.5" y="65" width="18.69999999999999" height="350" fill="url(#cbar)" stroke="#c8c8cc" stroke-width="1.2"/><rect x="428.2" y="93.4" width="4.5" height="1.6" fill="#a0a0a0"/><rect x="428.2" y="139.4" width="4.5" height="1.6" fill="#a0a0a0"/><rect x="428.2" y="185.4" width="4.5" height="1.6" fill="#a0a0a0"/><rect x="428.2" y="231.4" width="4.5" height="1.6" fill="#a0a0a0"/><rect x="428.2" y="277.4" width="4.5" height="1.6" fill="#a0a0a0"/><rect x="428.2" y="323.4" width="4.5" height="1.6" fill="#a0a0a0"/><rect x="428.2" y="369.4" width="4.5" height="1.6" fill="#a0a0a0"/><text x="441.8" y="108.2" font-size="33.3" text-anchor="start" font-weight="normal" fill="#fff" >35000</text><text x="442.6" y="382.8" font-size="33.3" text-anchor="start" font-weight="normal" fill="#fff" >5000</text>
<rect x="896.4" y="65" width="18.600000000000023" height="350" fill="url(#cbar)" stroke="#c8c8cc" stroke-width="1.2"/><rect x="915" y="100.3" width="4.5" height="1.6" fill="#a0a0a0"/><rect x="915" y="155.0" width="4.5" height="1.6" fill="#a0a0a0"/><rect x="915" y="209.6" width="4.5" height="1.6" fill="#a0a0a0"/><rect x="915" y="264.3" width="4.5" height="1.6" fill="#a0a0a0"/><rect x="915" y="318.9" width="4.5" height="1.6" fill="#a0a0a0"/><rect x="915" y="373.6" width="4.5" height="1.6" fill="#a0a0a0"/><text x="924.8" y="113.2" font-size="33.3" text-anchor="start" font-weight="normal" fill="#fff" >14</text><text x="928.4" y="387.4" font-size="33.3" text-anchor="start" font-weight="normal" fill="#fff" >4</text>
<rect x="1385.5" y="64.5" width="18.299999999999955" height="347.5" fill="url(#cbar)" stroke="#c8c8cc" stroke-width="1.2"/><rect x="1403.8" y="70.0" width="4.5" height="1.6" fill="#a0a0a0"/><rect x="1403.8" y="114.9" width="4.5" height="1.6" fill="#a0a0a0"/><rect x="1403.8" y="159.8" width="4.5" height="1.6" fill="#a0a0a0"/><rect x="1403.8" y="204.7" width="4.5" height="1.6" fill="#a0a0a0"/><rect x="1403.8" y="249.6" width="4.5" height="1.6" fill="#a0a0a0"/><rect x="1403.8" y="294.5" width="4.5" height="1.6" fill="#a0a0a0"/><rect x="1403.8" y="339.4" width="4.5" height="1.6" fill="#a0a0a0"/><rect x="1403.8" y="384.3" width="4.5" height="1.6" fill="#a0a0a0"/><text x="1414.0" y="89.4" font-size="33.3" text-anchor="start" font-weight="normal" fill="#fff" >200</text><text x="1414.4" y="396.4" font-size="33.3" text-anchor="start" font-weight="normal" fill="#fff" >25</text>
<rect x="1863.1" y="64.5" width="18.700000000000045" height="347.5" fill="url(#cbar)" stroke="#c8c8cc" stroke-width="1.2"/><rect x="1881.8" y="117.8" width="4.5" height="1.6" fill="#a0a0a0"/><rect x="1881.8" y="183.5" width="4.5" height="1.6" fill="#a0a0a0"/><rect x="1881.8" y="249.3" width="4.5" height="1.6" fill="#a0a0a0"/><rect x="1881.8" y="315.1" width="4.5" height="1.6" fill="#a0a0a0"/><rect x="1881.8" y="380.8" width="4.5" height="1.6" fill="#a0a0a0"/><text x="1890.4" y="132.0" font-size="33.3" text-anchor="start" font-weight="normal" fill="#fff" >10</text><text x="1895.6" y="391.8" font-size="33.3" text-anchor="start" font-weight="normal" fill="#fff" >2</text>
<rect x="409.5" y="426.5" width="18.69999999999999" height="349.5" fill="url(#cbar)" stroke="#c8c8cc" stroke-width="1.2"/><rect x="428.2" y="482.6" width="4.5" height="1.6" fill="#a0a0a0"/><rect x="428.2" y="541.3" width="4.5" height="1.6" fill="#a0a0a0"/><rect x="428.2" y="600.0" width="4.5" height="1.6" fill="#a0a0a0"/><rect x="428.2" y="658.7" width="4.5" height="1.6" fill="#a0a0a0"/><rect x="428.2" y="717.4" width="4.5" height="1.6" fill="#a0a0a0"/><text x="440.0" y="495.4" font-size="33.3" text-anchor="start" font-weight="normal" fill="#fff" >50000</text><text x="435.0" y="732.6" font-size="33.3" text-anchor="start" font-weight="normal" fill="#fff" >10000</text>
<rect x="896.4" y="426.5" width="18.600000000000023" height="349.5" fill="url(#cbar)" stroke="#c8c8cc" stroke-width="1.2"/><rect x="915" y="458.8" width="4.5" height="1.6" fill="#a0a0a0"/><rect x="915" y="504.7" width="4.5" height="1.6" fill="#a0a0a0"/><rect x="915" y="550.6" width="4.5" height="1.6" fill="#a0a0a0"/><rect x="915" y="596.5" width="4.5" height="1.6" fill="#a0a0a0"/><rect x="915" y="642.4" width="4.5" height="1.6" fill="#a0a0a0"/><rect x="915" y="688.3" width="4.5" height="1.6" fill="#a0a0a0"/><rect x="915" y="734.2" width="4.5" height="1.6" fill="#a0a0a0"/><text x="924.8" y="469.0" font-size="33.3" text-anchor="start" font-weight="normal" fill="#fff" >14</text><text x="932.6" y="745.8" font-size="33.3" text-anchor="start" font-weight="normal" fill="#fff" >2</text>
<rect x="1385.5" y="424" width="18.299999999999955" height="346" fill="url(#cbar)" stroke="#c8c8cc" stroke-width="1.2"/><rect x="1403.8" y="447.7" width="4.5" height="1.6" fill="#a0a0a0"/><rect x="1403.8" y="487.9" width="4.5" height="1.6" fill="#a0a0a0"/><rect x="1403.8" y="528.1" width="4.5" height="1.6" fill="#a0a0a0"/><rect x="1403.8" y="568.3" width="4.5" height="1.6" fill="#a0a0a0"/><rect x="1403.8" y="608.5" width="4.5" height="1.6" fill="#a0a0a0"/><rect x="1403.8" y="648.7" width="4.5" height="1.6" fill="#a0a0a0"/><rect x="1403.8" y="688.9" width="4.5" height="1.6" fill="#a0a0a0"/><rect x="1403.8" y="729.1" width="4.5" height="1.6" fill="#a0a0a0"/><rect x="1403.8" y="769.3" width="4.5" height="1.6" fill="#a0a0a0"/><text x="1411.4" y="459.4" font-size="33.3" text-anchor="start" font-weight="normal" fill="#fff" >160</text><text x="1413.2" y="743.4" font-size="33.3" text-anchor="start" font-weight="normal" fill="#fff" >20</text>
<rect x="1863.1" y="424" width="18.700000000000045" height="346" fill="url(#cbar)" stroke="#c8c8cc" stroke-width="1.2"/><rect x="1881.8" y="453.1" width="4.5" height="1.6" fill="#a0a0a0"/><rect x="1881.8" y="492.5" width="4.5" height="1.6" fill="#a0a0a0"/><rect x="1881.8" y="532.0" width="4.5" height="1.6" fill="#a0a0a0"/><rect x="1881.8" y="571.5" width="4.5" height="1.6" fill="#a0a0a0"/><rect x="1881.8" y="610.9" width="4.5" height="1.6" fill="#a0a0a0"/><rect x="1881.8" y="650.4" width="4.5" height="1.6" fill="#a0a0a0"/><rect x="1881.8" y="689.8" width="4.5" height="1.6" fill="#a0a0a0"/><rect x="1881.8" y="729.2" width="4.5" height="1.6" fill="#a0a0a0"/><rect x="1881.8" y="768.7" width="4.5" height="1.6" fill="#a0a0a0"/><text x="1893.8" y="466.6" font-size="33.3" text-anchor="start" font-weight="normal" fill="#fff" >10</text><text x="1889.0" y="741.4" font-size="33.3" text-anchor="start" font-weight="normal" fill="#fff" >2</text>
<rect x="409.8" y="788" width="18.599999999999966" height="349.5" fill="url(#cbar)" stroke="#c8c8cc" stroke-width="1.2"/><rect x="428.4" y="801.2" width="4.5" height="1.6" fill="#a0a0a0"/><rect x="428.4" y="843.4" width="4.5" height="1.6" fill="#a0a0a0"/><rect x="428.4" y="885.6" width="4.5" height="1.6" fill="#a0a0a0"/><rect x="428.4" y="927.8" width="4.5" height="1.6" fill="#a0a0a0"/><rect x="428.4" y="970.0" width="4.5" height="1.6" fill="#a0a0a0"/><rect x="428.4" y="1012.2" width="4.5" height="1.6" fill="#a0a0a0"/><rect x="428.4" y="1054.4" width="4.5" height="1.6" fill="#a0a0a0"/><rect x="428.4" y="1096.6" width="4.5" height="1.6" fill="#a0a0a0"/><text x="441.4" y="819.0" font-size="33.3" text-anchor="start" font-weight="normal" fill="#fff" >20000</text><text x="442.2" y="1109.2" font-size="33.3" text-anchor="start" font-weight="normal" fill="#fff" >2500</text>
<rect x="896.4" y="788" width="18.600000000000023" height="349.5" fill="url(#cbar)" stroke="#c8c8cc" stroke-width="1.2"/><rect x="915" y="817.9" width="4.5" height="1.6" fill="#a0a0a0"/><rect x="915" y="876.0" width="4.5" height="1.6" fill="#a0a0a0"/><rect x="915" y="934.1" width="4.5" height="1.6" fill="#a0a0a0"/><rect x="915" y="992.2" width="4.5" height="1.6" fill="#a0a0a0"/><rect x="915" y="1050.3" width="4.5" height="1.6" fill="#a0a0a0"/><rect x="915" y="1108.4" width="4.5" height="1.6" fill="#a0a0a0"/><text x="928.0" y="829.2" font-size="33.3" text-anchor="start" font-weight="normal" fill="#fff" >14</text><text x="932.4" y="1120.2" font-size="33.3" text-anchor="start" font-weight="normal" fill="#fff" >4</text>
<rect x="1385.5" y="791" width="18.299999999999955" height="346.5" fill="url(#cbar)" stroke="#c8c8cc" stroke-width="1.2"/><rect x="1403.8" y="790.0" width="4.5" height="1.6" fill="#a0a0a0"/><rect x="1403.8" y="836.8" width="4.5" height="1.6" fill="#a0a0a0"/><rect x="1403.8" y="883.6" width="4.5" height="1.6" fill="#a0a0a0"/><rect x="1403.8" y="930.4" width="4.5" height="1.6" fill="#a0a0a0"/><rect x="1403.8" y="977.2" width="4.5" height="1.6" fill="#a0a0a0"/><rect x="1403.8" y="1024.0" width="4.5" height="1.6" fill="#a0a0a0"/><rect x="1403.8" y="1070.8" width="4.5" height="1.6" fill="#a0a0a0"/><rect x="1403.8" y="1117.6" width="4.5" height="1.6" fill="#a0a0a0"/><text x="1414.0" y="848.8" font-size="33.3" text-anchor="start" font-weight="normal" fill="#fff" >175</text><text x="1417.4" y="1126.6" font-size="33.3" text-anchor="start" font-weight="normal" fill="#fff" >25</text>
<rect x="1863.1" y="791" width="18.700000000000045" height="346.5" fill="url(#cbar)" stroke="#c8c8cc" stroke-width="1.2"/><rect x="1881.8" y="850.7" width="4.5" height="1.6" fill="#a0a0a0"/><rect x="1881.8" y="920.9" width="4.5" height="1.6" fill="#a0a0a0"/><rect x="1881.8" y="991.1" width="4.5" height="1.6" fill="#a0a0a0"/><rect x="1881.8" y="1061.3" width="4.5" height="1.6" fill="#a0a0a0"/><rect x="1881.8" y="1131.5" width="4.5" height="1.6" fill="#a0a0a0"/><text x="1890.2" y="861.0" font-size="33.3" text-anchor="start" font-weight="normal" fill="#fff" >10</text><text x="1900.4" y="1136.4" font-size="33.3" text-anchor="start" font-weight="normal" fill="#fff" >2</text>
<text x="146.5" y="1215.8" font-size="43" text-anchor="start" font-weight="bold" fill="#fff" >(c)</text>
<text x="679.2" y="1252.3" font-size="32.6" text-anchor="middle" font-weight="normal" fill="#fff" letter-spacing="-1">cELS</text>
<text x="1493.3" y="1252" font-size="32.2" text-anchor="middle" font-weight="normal" fill="#fff" letter-spacing="0.55">Dark field (DF)</text>
<text transform="translate(183.2 1659.5) rotate(-90)" font-size="43" text-anchor="middle" font-weight="bold" fill="#fff" letter-spacing="-0.75">Pixel value (a.u.)</text>
<text x="1099" y="2122.9" font-size="31.9" text-anchor="middle" font-weight="normal" fill="#fff" letter-spacing="0.6">Distance(µm)</text>
<rect x="317" y="1281" width="692.5" height="340.5" fill="none" stroke="#b4b4b4" stroke-width="1.8"/><rect x="311" y="1321" width="5" height="2" fill="#b4b4b4"/><rect x="311" y="1398.5" width="5" height="2" fill="#b4b4b4"/><rect x="311" y="1475.5" width="5" height="2" fill="#b4b4b4"/><rect x="311" y="1554" width="5" height="2" fill="#b4b4b4"/><rect x="348" y="1622.5" width="2" height="5" fill="#b4b4b4"/><rect x="589.3" y="1622.5" width="2" height="5" fill="#b4b4b4"/><rect x="832.2" y="1622.5" width="2" height="5" fill="#b4b4b4"/>
<rect x="317" y="1690" width="692.5" height="339.5" fill="none" stroke="#b4b4b4" stroke-width="1.8"/><rect x="311" y="1693" width="5" height="2" fill="#b4b4b4"/><rect x="311" y="1804" width="5" height="2" fill="#b4b4b4"/><rect x="311" y="1912" width="5" height="2" fill="#b4b4b4"/><rect x="311" y="2020.5" width="5" height="2" fill="#b4b4b4"/><rect x="347.5" y="2030.5" width="2" height="5" fill="#b4b4b4"/><rect x="552.5" y="2030.5" width="2" height="5" fill="#b4b4b4"/><rect x="755.5" y="2030.5" width="2" height="5" fill="#b4b4b4"/><rect x="959.5" y="2030.5" width="2" height="5" fill="#b4b4b4"/>
<rect x="1149" y="1281" width="692" height="340.5" fill="none" stroke="#b4b4b4" stroke-width="1.8"/><rect x="1143" y="1349.2" width="5" height="2" fill="#b4b4b4"/><rect x="1143" y="1472.6" width="5" height="2" fill="#b4b4b4"/><rect x="1143" y="1597.6" width="5" height="2" fill="#b4b4b4"/><rect x="1178.7" y="1622.5" width="2" height="5" fill="#b4b4b4"/><rect x="1401.6" y="1622.5" width="2" height="5" fill="#b4b4b4"/><rect x="1625" y="1622.5" width="2" height="5" fill="#b4b4b4"/>
<rect x="1149" y="1690" width="692" height="339.5" fill="none" stroke="#b4b4b4" stroke-width="1.8"/><rect x="1143" y="1740.2" width="5" height="2" fill="#b4b4b4"/><rect x="1143" y="1829.5" width="5" height="2" fill="#b4b4b4"/><rect x="1143" y="1919.8" width="5" height="2" fill="#b4b4b4"/><rect x="1143" y="2009.7" width="5" height="2" fill="#b4b4b4"/><rect x="1178.7" y="2030.5" width="2" height="5" fill="#b4b4b4"/><rect x="1430.3" y="2030.5" width="2" height="5" fill="#b4b4b4"/><rect x="1683" y="2030.5" width="2" height="5" fill="#b4b4b4"/>
<polyline points="346.2,1598.1 386.8,1590.0 424.7,1559.1 468.0,1492.6 505.8,1408.7 544.8,1368.1 584.3,1380.0 623.8,1397.9 662.8,1393.5 700.6,1360.0 741.2,1317.8 780.7,1296.1 820.8,1362.7 860.3,1469.8 900.9,1546.7 939.8,1588.9 982.0,1607.3" fill="none" stroke="#ff0000" stroke-width="7.8" stroke-linejoin="round"/>
<polyline points="345.1,2001.5 380.3,1990.1 413.9,1963.1 447.4,1899.7 480.4,1794.2 514.0,1726.6 547.5,1704.9 580.5,1726.6 614.1,1754.7 645.5,1765.5 679.0,1748.2 712.6,1726.6 746.6,1763.4 779.1,1845.6 813.2,1920.3 845.7,1967.4 879.2,1995.5 911.7,2006.3 944.2,2011.2 982.0,2014.5" fill="none" stroke="#008000" stroke-width="7.8" stroke-linejoin="round"/>
<circle cx="1179.1" cy="1604.0" r="5" fill="#ff0000"/>
<circle cx="1217.0" cy="1586.7" r="5" fill="#ff0000"/>
<circle cx="1253.8" cy="1565.1" r="5" fill="#ff0000"/>
<circle cx="1290.6" cy="1502.8" r="5" fill="#ff0000"/>
<circle cx="1327.9" cy="1395.7" r="5" fill="#ff0000"/>
<circle cx="1364.7" cy="1323.7" r="5" fill="#ff0000"/>
<circle cx="1401.5" cy="1323.7" r="5" fill="#ff0000"/>
<circle cx="1438.9" cy="1296.7" r="5" fill="#ff0000"/>
<circle cx="1475.1" cy="1301.5" r="5" fill="#ff0000"/>
<circle cx="1512.4" cy="1319.9" r="5" fill="#ff0000"/>
<circle cx="1549.2" cy="1383.2" r="5" fill="#ff0000"/>
<circle cx="1586.0" cy="1466.6" r="5" fill="#ff0000"/>
<circle cx="1623.4" cy="1545.6" r="5" fill="#ff0000"/>
<circle cx="1661.3" cy="1574.3" r="5" fill="#ff0000"/>
<circle cx="1698.1" cy="1591.6" r="5" fill="#ff0000"/>
<circle cx="1734.8" cy="1597.5" r="5" fill="#ff0000"/>
<circle cx="1772.2" cy="1599.7" r="5" fill="#ff0000"/>
<circle cx="1809.0" cy="1606.2" r="5" fill="#ff0000"/>
<circle cx="1179.7" cy="2010.7" r="5" fill="#009a00"/>
<circle cx="1221.3" cy="2001.5" r="5" fill="#009a00"/>
<circle cx="1263.0" cy="1960.3" r="5" fill="#009a00"/>
<circle cx="1305.2" cy="1899.2" r="5" fill="#009a00"/>
<circle cx="1347.4" cy="1809.9" r="5" fill="#009a00"/>
<circle cx="1389.1" cy="1728.7" r="5" fill="#009a00"/>
<circle cx="1431.3" cy="1705.5" r="5" fill="#009a00"/>
<circle cx="1472.4" cy="1714.7" r="5" fill="#009a00"/>
<circle cx="1514.6" cy="1762.8" r="5" fill="#009a00"/>
<circle cx="1556.3" cy="1830.5" r="5" fill="#009a00"/>
<circle cx="1598.5" cy="1885.7" r="5" fill="#009a00"/>
<circle cx="1640.7" cy="1945.2" r="5" fill="#009a00"/>
<circle cx="1682.9" cy="1997.1" r="5" fill="#009a00"/>
<circle cx="1724.6" cy="2004.7" r="5" fill="#009a00"/>
<circle cx="1766.8" cy="2010.7" r="5" fill="#009a00"/>
<circle cx="1809.0" cy="2014.5" r="5" fill="#009a00"/>
<text x="306" y="1328.7" font-size="33.5" text-anchor="end" font-weight="normal" fill="#fff" >20000</text>
<text x="302.7" y="1567.3" font-size="33.5" text-anchor="end" font-weight="normal" fill="#fff" >5000</text>
<text x="306.7" y="1711.8" font-size="33.5" text-anchor="end" font-weight="normal" fill="#fff" >60000</text>
<text x="302" y="2033.5" font-size="33.5" text-anchor="end" font-weight="normal" fill="#fff" >0</text>
<text x="1137" y="1363.6" font-size="33.5" text-anchor="end" font-weight="normal" fill="#fff" >150</text>
<text x="1137" y="1611.9" font-size="33.5" text-anchor="end" font-weight="normal" fill="#fff" >50</text>
<text x="1139.5" y="1756" font-size="33.5" text-anchor="end" font-weight="normal" fill="#fff" >100</text>
<text x="1139.5" y="2024" font-size="33.5" text-anchor="end" font-weight="normal" fill="#fff" >25</text>
<text x="349.8" y="2073.1" font-size="33.5" text-anchor="middle" font-weight="normal" fill="#fff" >0</text>
<text x="550.6" y="2073.1" font-size="33.5" text-anchor="middle" font-weight="normal" fill="#fff" >2</text>
<text x="755.1" y="2073.1" font-size="33.5" text-anchor="middle" font-weight="normal" fill="#fff" >4</text>
<text x="961.4" y="2073.1" font-size="33.5" text-anchor="middle" font-weight="normal" fill="#fff" >6</text>
<text x="1179.7" y="2073" font-size="33.5" text-anchor="middle" font-weight="normal" fill="#fff" >0</text>
<text x="1431.3" y="2073" font-size="33.5" text-anchor="middle" font-weight="normal" fill="#fff" >2</text>
<text x="1684" y="2073" font-size="33.5" text-anchor="middle" font-weight="normal" fill="#fff" >4</text></svg></body></html>
